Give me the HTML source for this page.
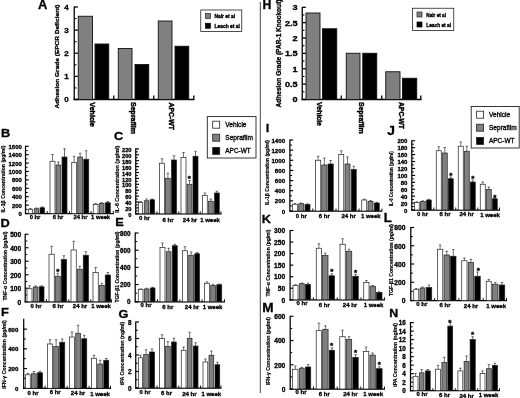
<!DOCTYPE html>
<html><head><meta charset="utf-8"><title>Figure</title>
<style>
html,body{margin:0;padding:0;background:#fff;}
svg{display:block;font-family:"Liberation Sans",sans-serif;}
text{stroke:#000;stroke-width:0.32px;}
</style></head><body>
<svg width="520" height="398" viewBox="0 0 520 398">
<rect width="520" height="398" fill="#fff"/>
<defs><filter id="bl" x="0" y="0" width="100%" height="100%" filterUnits="userSpaceOnUse"><feGaussianBlur stdDeviation="0.35"/></filter></defs>
<g filter="url(#bl)">
<rect width="520" height="398" fill="#fff"/>
<g stroke-linecap="butt">
<line x1="260.30" y1="2.00" x2="260.30" y2="393.00" stroke="#333" stroke-width="0.9"/>
<line x1="74.25" y1="6.40" x2="74.25" y2="100.10" stroke="#000" stroke-width="1.3"/>
<line x1="73.65" y1="99.50" x2="194.50" y2="99.50" stroke="#000" stroke-width="1.3"/>
<line x1="74.25" y1="87.94" x2="76.45" y2="87.94" stroke="#000" stroke-width="1.1"/>
<line x1="74.25" y1="64.81" x2="76.45" y2="64.81" stroke="#000" stroke-width="1.1"/>
<line x1="74.25" y1="41.69" x2="76.45" y2="41.69" stroke="#000" stroke-width="1.1"/>
<line x1="74.25" y1="18.56" x2="76.45" y2="18.56" stroke="#000" stroke-width="1.1"/>
<line x1="74.25" y1="99.50" x2="77.85" y2="99.50" stroke="#000" stroke-width="1.3"/>
<text font-size="8" font-weight="bold" text-anchor="end" transform="translate(68.8 102.38) scale(1.0 1)">0</text>
<line x1="74.25" y1="76.38" x2="77.85" y2="76.38" stroke="#000" stroke-width="1.3"/>
<text font-size="8" font-weight="bold" text-anchor="end" transform="translate(68.8 79.25) scale(1.0 1)">1</text>
<line x1="74.25" y1="53.25" x2="77.85" y2="53.25" stroke="#000" stroke-width="1.3"/>
<text font-size="8" font-weight="bold" text-anchor="end" transform="translate(68.8 56.13) scale(1.0 1)">2</text>
<line x1="74.25" y1="30.12" x2="77.85" y2="30.12" stroke="#000" stroke-width="1.3"/>
<text font-size="8" font-weight="bold" text-anchor="end" transform="translate(68.8 33.01) scale(1.0 1)">3</text>
<line x1="74.25" y1="7.00" x2="77.85" y2="7.00" stroke="#000" stroke-width="1.3"/>
<text font-size="8" font-weight="bold" text-anchor="end" transform="translate(68.8 9.88) scale(1.0 1)">4</text>
<line x1="113.75" y1="99.50" x2="113.75" y2="95.50" stroke="#000" stroke-width="1.3"/>
<line x1="153.75" y1="99.50" x2="153.75" y2="95.50" stroke="#000" stroke-width="1.3"/>
<line x1="193.75" y1="99.50" x2="193.75" y2="95.50" stroke="#000" stroke-width="1.3"/>
<rect x="78.25" y="16.25" width="14.25" height="83.25" fill="#808080" stroke="#111" stroke-width="0.9"/>
<rect x="95.00" y="44.00" width="13.75" height="55.50" fill="#000" stroke="#111" stroke-width="0.9"/>
<rect x="118.25" y="48.50" width="13.75" height="51.00" fill="#808080" stroke="#111" stroke-width="0.9"/>
<rect x="135.00" y="64.50" width="13.75" height="35.00" fill="#000" stroke="#111" stroke-width="0.9"/>
<rect x="158.25" y="21.00" width="13.75" height="78.50" fill="#808080" stroke="#111" stroke-width="0.9"/>
<rect x="175.00" y="46.25" width="13.75" height="53.25" fill="#000" stroke="#111" stroke-width="0.9"/>
<text font-size="12" font-weight="bold" transform="translate(38 8.5) scale(1.08 1)">A</text>
<text font-size="6.2" font-weight="bold" text-anchor="middle" textLength="104" lengthAdjust="spacingAndGlyphs" transform="translate(58.8 56.5) rotate(-90)">Adhesion Grade (EPCR Deficient)</text>
<text font-size="7" font-weight="bold" text-anchor="start" textLength="24.5" lengthAdjust="spacingAndGlyphs" style="stroke-width:0.42px" transform="translate(89.60000000000001 102.3) scale(1.13 1) rotate(90)">Vehicle</text>
<text font-size="7" font-weight="bold" text-anchor="start" textLength="32" lengthAdjust="spacingAndGlyphs" style="stroke-width:0.42px" transform="translate(130.70000000000002 102) scale(1.13 1) rotate(90)">Seprafilm</text>
<text font-size="7" font-weight="bold" text-anchor="start" textLength="27.5" lengthAdjust="spacingAndGlyphs" style="stroke-width:0.42px" transform="translate(169.3 102.5) scale(1.13 1) rotate(90)">APC-WT</text>
<line x1="302.25" y1="6.90" x2="302.25" y2="100.10" stroke="#000" stroke-width="1.3"/>
<line x1="301.65" y1="99.50" x2="421.50" y2="99.50" stroke="#000" stroke-width="1.3"/>
<line x1="302.25" y1="91.81" x2="304.45" y2="91.81" stroke="#000" stroke-width="1.1"/>
<line x1="302.25" y1="76.44" x2="304.45" y2="76.44" stroke="#000" stroke-width="1.1"/>
<line x1="302.25" y1="61.08" x2="304.45" y2="61.08" stroke="#000" stroke-width="1.1"/>
<line x1="302.25" y1="45.70" x2="304.45" y2="45.70" stroke="#000" stroke-width="1.1"/>
<line x1="302.25" y1="30.34" x2="304.45" y2="30.34" stroke="#000" stroke-width="1.1"/>
<line x1="302.25" y1="14.97" x2="304.45" y2="14.97" stroke="#000" stroke-width="1.1"/>
<line x1="302.25" y1="99.50" x2="305.85" y2="99.50" stroke="#000" stroke-width="1.3"/>
<text font-size="8" font-weight="bold" text-anchor="end" transform="translate(297.6 102.38) scale(1.14 1)">0</text>
<line x1="302.25" y1="84.13" x2="305.85" y2="84.13" stroke="#000" stroke-width="1.3"/>
<text font-size="8" font-weight="bold" text-anchor="end" transform="translate(297.6 87.01) scale(1.14 1)">0.5</text>
<line x1="302.25" y1="68.76" x2="305.85" y2="68.76" stroke="#000" stroke-width="1.3"/>
<text font-size="8" font-weight="bold" text-anchor="end" transform="translate(297.6 71.64) scale(1.14 1)">1</text>
<line x1="302.25" y1="53.39" x2="305.85" y2="53.39" stroke="#000" stroke-width="1.3"/>
<text font-size="8" font-weight="bold" text-anchor="end" transform="translate(297.6 56.27) scale(1.14 1)">1.5</text>
<line x1="302.25" y1="38.02" x2="305.85" y2="38.02" stroke="#000" stroke-width="1.3"/>
<text font-size="8" font-weight="bold" text-anchor="end" transform="translate(297.6 40.90) scale(1.14 1)">2</text>
<line x1="302.25" y1="22.65" x2="305.85" y2="22.65" stroke="#000" stroke-width="1.3"/>
<text font-size="8" font-weight="bold" text-anchor="end" transform="translate(297.6 25.53) scale(1.14 1)">2.5</text>
<line x1="302.25" y1="7.28" x2="305.85" y2="7.28" stroke="#000" stroke-width="1.3"/>
<text font-size="8" font-weight="bold" text-anchor="end" transform="translate(297.6 10.16) scale(1.14 1)">3</text>
<line x1="341.25" y1="99.50" x2="341.25" y2="95.50" stroke="#000" stroke-width="1.3"/>
<line x1="381.75" y1="99.50" x2="381.75" y2="95.50" stroke="#000" stroke-width="1.3"/>
<line x1="420.75" y1="99.50" x2="420.75" y2="95.50" stroke="#000" stroke-width="1.3"/>
<rect x="306.00" y="13.00" width="14.00" height="86.50" fill="#808080" stroke="#111" stroke-width="0.9"/>
<rect x="322.50" y="28.75" width="14.25" height="70.75" fill="#000" stroke="#111" stroke-width="0.9"/>
<rect x="346.25" y="53.25" width="13.75" height="46.25" fill="#808080" stroke="#111" stroke-width="0.9"/>
<rect x="362.75" y="53.25" width="14.00" height="46.25" fill="#000" stroke="#111" stroke-width="0.9"/>
<rect x="385.75" y="71.75" width="14.25" height="27.75" fill="#808080" stroke="#111" stroke-width="0.9"/>
<rect x="402.50" y="78.25" width="14.25" height="21.25" fill="#000" stroke="#111" stroke-width="0.9"/>
<text font-size="12.3" font-weight="bold" transform="translate(262.6 8.8) scale(1.0 1)">H</text>
<text font-size="6.3" font-weight="bold" text-anchor="middle" textLength="108" lengthAdjust="spacingAndGlyphs" transform="translate(281.4 53.5) rotate(-90)">Adhesion Grade (PAR-1 Knockout)</text>
<text font-size="7" font-weight="bold" text-anchor="start" textLength="24" lengthAdjust="spacingAndGlyphs" style="stroke-width:0.42px" transform="translate(317.4 102) scale(1.13 1) rotate(90)">Vehicle</text>
<text font-size="7" font-weight="bold" text-anchor="start" textLength="31.75" lengthAdjust="spacingAndGlyphs" style="stroke-width:0.42px" transform="translate(358.5 102) scale(1.13 1) rotate(90)">Seprafilm</text>
<text font-size="7" font-weight="bold" text-anchor="start" textLength="27" lengthAdjust="spacingAndGlyphs" style="stroke-width:0.42px" transform="translate(398.65 102) scale(1.13 1) rotate(90)">APC-WT</text>
<rect x="200.75" y="10" width="41.0" height="21.5" fill="#fff" stroke="#222" stroke-width="0.8"/>
<rect x="205.5" y="13.5" width="5" height="5" fill="#808080" stroke="#222" stroke-width="0.7"/>
<rect x="205.5" y="23.25" width="5" height="5" fill="#000" stroke="#000" stroke-width="0.7"/>
<text x="214.50" y="18.10" font-size="5" font-weight="bold" text-anchor="start" fill="#000" textLength="20.50" lengthAdjust="spacingAndGlyphs" >Nair et al</text>
<text x="214.50" y="27.85" font-size="5" font-weight="bold" text-anchor="start" fill="#000" textLength="25.50" lengthAdjust="spacingAndGlyphs" >Leach et al</text>
<rect x="412.5" y="8.25" width="41.25" height="22.25" fill="#fff" stroke="#222" stroke-width="0.8"/>
<rect x="417" y="12" width="5" height="5" fill="#808080" stroke="#222" stroke-width="0.7"/>
<rect x="417" y="22" width="5" height="5" fill="#000" stroke="#000" stroke-width="0.7"/>
<text x="426.25" y="16.60" font-size="5" font-weight="bold" text-anchor="start" fill="#000" textLength="19.75" lengthAdjust="spacingAndGlyphs" >Nair et al</text>
<text x="426.25" y="26.60" font-size="5" font-weight="bold" text-anchor="start" fill="#000" textLength="24.75" lengthAdjust="spacingAndGlyphs" >Leach et al</text>
<rect x="207.3" y="116.6" width="48.69999999999999" height="41.400000000000006" fill="#fff" stroke="#222" stroke-width="0.9"/>
<rect x="212.7" y="121.2" width="7" height="7" fill="#fff" stroke="#222" stroke-width="0.8"/>
<rect x="212.7" y="134.2" width="7" height="7" fill="#808080" stroke="#222" stroke-width="0.8"/>
<rect x="212.7" y="147.4" width="7" height="7" fill="#000" stroke="#222" stroke-width="0.8"/>
<text x="225.30" y="126.80" font-size="6.6" font-weight="normal" text-anchor="start" fill="#000" textLength="21.20" lengthAdjust="spacingAndGlyphs" stroke="#000" stroke-width="0.15">Vehicle</text>
<text x="225.30" y="140.00" font-size="6.6" font-weight="normal" text-anchor="start" fill="#000" textLength="27.70" lengthAdjust="spacingAndGlyphs" stroke="#000" stroke-width="0.15">Seprafilm</text>
<text x="225.30" y="153.20" font-size="6.6" font-weight="normal" text-anchor="start" fill="#000" textLength="25.50" lengthAdjust="spacingAndGlyphs" stroke="#000" stroke-width="0.15">APC-WT</text>
<rect x="471.2" y="106.5" width="48.00000000000006" height="41.5" fill="#fff" stroke="#222" stroke-width="0.9"/>
<rect x="476.6" y="111.2" width="7" height="7" fill="#fff" stroke="#222" stroke-width="0.8"/>
<rect x="476.6" y="124.2" width="7" height="7" fill="#808080" stroke="#222" stroke-width="0.8"/>
<rect x="476.6" y="137.4" width="7" height="7" fill="#000" stroke="#222" stroke-width="0.8"/>
<text x="489.00" y="116.80" font-size="6.6" font-weight="normal" text-anchor="start" fill="#000" textLength="21.20" lengthAdjust="spacingAndGlyphs" stroke="#000" stroke-width="0.15">Vehicle</text>
<text x="489.00" y="130.00" font-size="6.6" font-weight="normal" text-anchor="start" fill="#000" textLength="27.70" lengthAdjust="spacingAndGlyphs" stroke="#000" stroke-width="0.15">Seprafilm</text>
<text x="489.00" y="143.20" font-size="6.6" font-weight="normal" text-anchor="start" fill="#000" textLength="25.50" lengthAdjust="spacingAndGlyphs" stroke="#000" stroke-width="0.15">APC-WT</text>
<line x1="25.50" y1="145.70" x2="25.50" y2="214.10" stroke="#000" stroke-width="1.25"/>
<line x1="24.90" y1="213.50" x2="113.80" y2="213.50" stroke="#000" stroke-width="1.25"/>
<line x1="25.50" y1="213.50" x2="28.80" y2="213.50" stroke="#000" stroke-width="1.15"/>
<text x="21.90" y="216.06" font-size="6" font-weight="bold" text-anchor="end" fill="#000" >0</text>
<line x1="25.50" y1="205.10" x2="28.80" y2="205.10" stroke="#000" stroke-width="1.15"/>
<text x="21.90" y="207.66" font-size="6" font-weight="bold" text-anchor="end" fill="#000" >200</text>
<line x1="25.50" y1="196.70" x2="28.80" y2="196.70" stroke="#000" stroke-width="1.15"/>
<text x="21.90" y="199.26" font-size="6" font-weight="bold" text-anchor="end" fill="#000" >400</text>
<line x1="25.50" y1="188.30" x2="28.80" y2="188.30" stroke="#000" stroke-width="1.15"/>
<text x="21.90" y="190.86" font-size="6" font-weight="bold" text-anchor="end" fill="#000" >600</text>
<line x1="25.50" y1="179.90" x2="28.80" y2="179.90" stroke="#000" stroke-width="1.15"/>
<text x="21.90" y="182.46" font-size="6" font-weight="bold" text-anchor="end" fill="#000" >800</text>
<line x1="25.50" y1="171.50" x2="28.80" y2="171.50" stroke="#000" stroke-width="1.15"/>
<text x="21.90" y="174.06" font-size="6" font-weight="bold" text-anchor="end" fill="#000" >1000</text>
<line x1="25.50" y1="163.10" x2="28.80" y2="163.10" stroke="#000" stroke-width="1.15"/>
<text x="21.90" y="165.66" font-size="6" font-weight="bold" text-anchor="end" fill="#000" >1200</text>
<line x1="25.50" y1="154.70" x2="28.80" y2="154.70" stroke="#000" stroke-width="1.15"/>
<text x="21.90" y="157.26" font-size="6" font-weight="bold" text-anchor="end" fill="#000" >1400</text>
<line x1="25.50" y1="146.30" x2="28.80" y2="146.30" stroke="#000" stroke-width="1.15"/>
<text x="21.90" y="148.86" font-size="6" font-weight="bold" text-anchor="end" fill="#000" >1600</text>
<line x1="25.50" y1="209.30" x2="27.60" y2="209.30" stroke="#000" stroke-width="1.0"/>
<line x1="25.50" y1="200.90" x2="27.60" y2="200.90" stroke="#000" stroke-width="1.0"/>
<line x1="25.50" y1="192.50" x2="27.60" y2="192.50" stroke="#000" stroke-width="1.0"/>
<line x1="25.50" y1="184.10" x2="27.60" y2="184.10" stroke="#000" stroke-width="1.0"/>
<line x1="25.50" y1="175.70" x2="27.60" y2="175.70" stroke="#000" stroke-width="1.0"/>
<line x1="25.50" y1="167.30" x2="27.60" y2="167.30" stroke="#000" stroke-width="1.0"/>
<line x1="25.50" y1="158.90" x2="27.60" y2="158.90" stroke="#000" stroke-width="1.0"/>
<line x1="25.50" y1="150.50" x2="27.60" y2="150.50" stroke="#000" stroke-width="1.0"/>
<line x1="30.38" y1="208.50" x2="30.38" y2="209.25" stroke="#333" stroke-width="0.7"/>
<line x1="29.12" y1="208.50" x2="31.62" y2="208.50" stroke="#333" stroke-width="0.7"/>
<rect x="28.25" y="209.25" width="4.25" height="4.25" fill="#fff" stroke="#222" stroke-width="0.7"/>
<line x1="36.50" y1="208.00" x2="36.50" y2="208.75" stroke="#333" stroke-width="0.7"/>
<line x1="35.25" y1="208.00" x2="37.75" y2="208.00" stroke="#333" stroke-width="0.7"/>
<rect x="34.25" y="208.75" width="4.50" height="4.75" fill="#808080" stroke="#222" stroke-width="0.7"/>
<line x1="42.25" y1="206.80" x2="42.25" y2="207.75" stroke="#333" stroke-width="0.7"/>
<line x1="41.00" y1="206.80" x2="43.50" y2="206.80" stroke="#333" stroke-width="0.7"/>
<rect x="40.00" y="207.75" width="4.50" height="5.75" fill="#000" stroke="#222" stroke-width="0.7"/>
<line x1="52.50" y1="154.50" x2="52.50" y2="161.25" stroke="#333" stroke-width="0.7"/>
<line x1="51.25" y1="154.50" x2="53.75" y2="154.50" stroke="#333" stroke-width="0.7"/>
<rect x="50.00" y="161.25" width="5.00" height="52.25" fill="#fff" stroke="#222" stroke-width="0.7"/>
<line x1="58.38" y1="162.00" x2="58.38" y2="165.00" stroke="#333" stroke-width="0.7"/>
<line x1="57.12" y1="162.00" x2="59.62" y2="162.00" stroke="#333" stroke-width="0.7"/>
<rect x="56.00" y="165.00" width="4.75" height="48.50" fill="#808080" stroke="#222" stroke-width="0.7"/>
<line x1="64.50" y1="148.75" x2="64.50" y2="157.00" stroke="#333" stroke-width="0.7"/>
<line x1="63.25" y1="148.75" x2="65.75" y2="148.75" stroke="#333" stroke-width="0.7"/>
<rect x="62.00" y="157.00" width="5.00" height="56.50" fill="#000" stroke="#222" stroke-width="0.7"/>
<line x1="74.12" y1="156.25" x2="74.12" y2="162.50" stroke="#333" stroke-width="0.7"/>
<line x1="72.88" y1="156.25" x2="75.38" y2="156.25" stroke="#333" stroke-width="0.7"/>
<rect x="71.75" y="162.50" width="4.75" height="51.00" fill="#fff" stroke="#222" stroke-width="0.7"/>
<line x1="80.12" y1="153.25" x2="80.12" y2="157.00" stroke="#333" stroke-width="0.7"/>
<line x1="78.88" y1="153.25" x2="81.38" y2="153.25" stroke="#333" stroke-width="0.7"/>
<rect x="77.75" y="157.00" width="4.75" height="56.50" fill="#808080" stroke="#222" stroke-width="0.7"/>
<line x1="86.25" y1="150.75" x2="86.25" y2="159.25" stroke="#333" stroke-width="0.7"/>
<line x1="85.00" y1="150.75" x2="87.50" y2="150.75" stroke="#333" stroke-width="0.7"/>
<rect x="83.75" y="159.25" width="5.00" height="54.25" fill="#000" stroke="#222" stroke-width="0.7"/>
<line x1="95.62" y1="203.50" x2="95.62" y2="204.50" stroke="#333" stroke-width="0.7"/>
<line x1="94.38" y1="203.50" x2="96.88" y2="203.50" stroke="#333" stroke-width="0.7"/>
<rect x="93.25" y="204.50" width="4.75" height="9.00" fill="#fff" stroke="#222" stroke-width="0.7"/>
<line x1="101.62" y1="202.60" x2="101.62" y2="203.50" stroke="#333" stroke-width="0.7"/>
<line x1="100.38" y1="202.60" x2="102.88" y2="202.60" stroke="#333" stroke-width="0.7"/>
<rect x="99.25" y="203.50" width="4.75" height="10.00" fill="#808080" stroke="#222" stroke-width="0.7"/>
<line x1="107.75" y1="201.50" x2="107.75" y2="202.75" stroke="#333" stroke-width="0.7"/>
<line x1="106.50" y1="201.50" x2="109.00" y2="201.50" stroke="#333" stroke-width="0.7"/>
<rect x="105.25" y="202.75" width="5.00" height="10.75" fill="#000" stroke="#222" stroke-width="0.7"/>
<line x1="47.25" y1="213.50" x2="47.25" y2="211.00" stroke="#000" stroke-width="0.9"/>
<line x1="69.38" y1="213.50" x2="69.38" y2="211.00" stroke="#000" stroke-width="0.9"/>
<line x1="91.00" y1="213.50" x2="91.00" y2="211.00" stroke="#000" stroke-width="0.9"/>
<line x1="113.30" y1="213.50" x2="113.30" y2="211.00" stroke="#000" stroke-width="0.9"/>
<text x="35.00" y="219.40" font-size="5.8" font-weight="bold" text-anchor="middle" fill="#000" >0 hr</text>
<text x="58.00" y="219.40" font-size="5.8" font-weight="bold" text-anchor="middle" fill="#000" >6 hr</text>
<text x="80.50" y="219.40" font-size="5.8" font-weight="bold" text-anchor="middle" fill="#000" >24 hr</text>
<text x="100.60" y="219.40" font-size="5.8" font-weight="bold" text-anchor="middle" fill="#000" >1 week</text>
<text font-size="11.8" font-weight="bold" transform="translate(1 136.8) scale(1.08 1)">B</text>
<text font-size="4.8" font-weight="bold" text-anchor="middle" textLength="67" lengthAdjust="spacingAndGlyphs" style="stroke-width:0.18px" transform="translate(4.6 179) rotate(-90)">IL-1&#946; Concentration (pg/ml)</text>
<line x1="135.75" y1="148.30" x2="135.75" y2="214.40" stroke="#000" stroke-width="1.25"/>
<line x1="135.15" y1="213.80" x2="221.50" y2="213.80" stroke="#000" stroke-width="1.25"/>
<line x1="135.75" y1="213.80" x2="139.05" y2="213.80" stroke="#000" stroke-width="1.15"/>
<text x="131.50" y="216.95" font-size="5.7" font-weight="bold" text-anchor="end" fill="#000" >0</text>
<line x1="135.75" y1="207.90" x2="139.05" y2="207.90" stroke="#000" stroke-width="1.15"/>
<text x="131.50" y="211.05" font-size="5.7" font-weight="bold" text-anchor="end" fill="#000" >20</text>
<line x1="135.75" y1="202.00" x2="139.05" y2="202.00" stroke="#000" stroke-width="1.15"/>
<text x="131.50" y="205.15" font-size="5.7" font-weight="bold" text-anchor="end" fill="#000" >40</text>
<line x1="135.75" y1="196.10" x2="139.05" y2="196.10" stroke="#000" stroke-width="1.15"/>
<text x="131.50" y="199.25" font-size="5.7" font-weight="bold" text-anchor="end" fill="#000" >60</text>
<line x1="135.75" y1="190.20" x2="139.05" y2="190.20" stroke="#000" stroke-width="1.15"/>
<text x="131.50" y="193.35" font-size="5.7" font-weight="bold" text-anchor="end" fill="#000" >80</text>
<line x1="135.75" y1="184.30" x2="139.05" y2="184.30" stroke="#000" stroke-width="1.15"/>
<text x="131.50" y="187.45" font-size="5.7" font-weight="bold" text-anchor="end" fill="#000" >100</text>
<line x1="135.75" y1="178.40" x2="139.05" y2="178.40" stroke="#000" stroke-width="1.15"/>
<text x="131.50" y="181.55" font-size="5.7" font-weight="bold" text-anchor="end" fill="#000" >120</text>
<line x1="135.75" y1="172.50" x2="139.05" y2="172.50" stroke="#000" stroke-width="1.15"/>
<text x="131.50" y="175.65" font-size="5.7" font-weight="bold" text-anchor="end" fill="#000" >140</text>
<line x1="135.75" y1="166.60" x2="139.05" y2="166.60" stroke="#000" stroke-width="1.15"/>
<text x="131.50" y="169.75" font-size="5.7" font-weight="bold" text-anchor="end" fill="#000" >160</text>
<line x1="135.75" y1="160.70" x2="139.05" y2="160.70" stroke="#000" stroke-width="1.15"/>
<text x="131.50" y="163.85" font-size="5.7" font-weight="bold" text-anchor="end" fill="#000" >180</text>
<line x1="135.75" y1="154.80" x2="139.05" y2="154.80" stroke="#000" stroke-width="1.15"/>
<text x="131.50" y="157.95" font-size="5.7" font-weight="bold" text-anchor="end" fill="#000" >200</text>
<line x1="135.75" y1="148.90" x2="139.05" y2="148.90" stroke="#000" stroke-width="1.15"/>
<text x="131.50" y="152.05" font-size="5.7" font-weight="bold" text-anchor="end" fill="#000" >220</text>
<line x1="135.75" y1="210.85" x2="137.85" y2="210.85" stroke="#000" stroke-width="1.0"/>
<line x1="135.75" y1="204.95" x2="137.85" y2="204.95" stroke="#000" stroke-width="1.0"/>
<line x1="135.75" y1="199.05" x2="137.85" y2="199.05" stroke="#000" stroke-width="1.0"/>
<line x1="135.75" y1="193.15" x2="137.85" y2="193.15" stroke="#000" stroke-width="1.0"/>
<line x1="135.75" y1="187.25" x2="137.85" y2="187.25" stroke="#000" stroke-width="1.0"/>
<line x1="135.75" y1="181.35" x2="137.85" y2="181.35" stroke="#000" stroke-width="1.0"/>
<line x1="135.75" y1="175.45" x2="137.85" y2="175.45" stroke="#000" stroke-width="1.0"/>
<line x1="135.75" y1="169.55" x2="137.85" y2="169.55" stroke="#000" stroke-width="1.0"/>
<line x1="135.75" y1="163.65" x2="137.85" y2="163.65" stroke="#000" stroke-width="1.0"/>
<line x1="135.75" y1="157.75" x2="137.85" y2="157.75" stroke="#000" stroke-width="1.0"/>
<line x1="135.75" y1="151.85" x2="137.85" y2="151.85" stroke="#000" stroke-width="1.0"/>
<line x1="140.60" y1="201.50" x2="140.60" y2="202.50" stroke="#333" stroke-width="0.7"/>
<line x1="139.35" y1="201.50" x2="141.85" y2="201.50" stroke="#333" stroke-width="0.7"/>
<rect x="138.60" y="202.50" width="4.00" height="11.30" fill="#fff" stroke="#222" stroke-width="0.7"/>
<line x1="146.50" y1="199.00" x2="146.50" y2="200.75" stroke="#333" stroke-width="0.7"/>
<line x1="145.25" y1="199.00" x2="147.75" y2="199.00" stroke="#333" stroke-width="0.7"/>
<rect x="144.25" y="200.75" width="4.50" height="13.05" fill="#808080" stroke="#222" stroke-width="0.7"/>
<line x1="152.25" y1="199.00" x2="152.25" y2="199.75" stroke="#333" stroke-width="0.7"/>
<line x1="151.00" y1="199.00" x2="153.50" y2="199.00" stroke="#333" stroke-width="0.7"/>
<rect x="150.00" y="199.75" width="4.50" height="14.05" fill="#000" stroke="#222" stroke-width="0.7"/>
<line x1="162.00" y1="158.75" x2="162.00" y2="163.25" stroke="#333" stroke-width="0.7"/>
<line x1="160.75" y1="158.75" x2="163.25" y2="158.75" stroke="#333" stroke-width="0.7"/>
<rect x="159.50" y="163.25" width="5.00" height="50.55" fill="#fff" stroke="#222" stroke-width="0.7"/>
<line x1="167.88" y1="173.25" x2="167.88" y2="178.25" stroke="#333" stroke-width="0.7"/>
<line x1="166.62" y1="173.25" x2="169.12" y2="173.25" stroke="#333" stroke-width="0.7"/>
<rect x="165.50" y="178.25" width="4.75" height="35.55" fill="#808080" stroke="#222" stroke-width="0.7"/>
<line x1="174.00" y1="155.75" x2="174.00" y2="160.00" stroke="#333" stroke-width="0.7"/>
<line x1="172.75" y1="155.75" x2="175.25" y2="155.75" stroke="#333" stroke-width="0.7"/>
<rect x="171.50" y="160.00" width="5.00" height="53.80" fill="#000" stroke="#222" stroke-width="0.7"/>
<line x1="183.50" y1="152.50" x2="183.50" y2="157.50" stroke="#333" stroke-width="0.7"/>
<line x1="182.25" y1="152.50" x2="184.75" y2="152.50" stroke="#333" stroke-width="0.7"/>
<rect x="181.00" y="157.50" width="5.00" height="56.30" fill="#fff" stroke="#222" stroke-width="0.7"/>
<line x1="189.50" y1="180.50" x2="189.50" y2="184.25" stroke="#333" stroke-width="0.7"/>
<line x1="188.25" y1="180.50" x2="190.75" y2="180.50" stroke="#333" stroke-width="0.7"/>
<rect x="187.00" y="184.25" width="5.00" height="29.55" fill="#808080" stroke="#222" stroke-width="0.7"/>
<line x1="195.50" y1="151.25" x2="195.50" y2="156.25" stroke="#333" stroke-width="0.7"/>
<line x1="194.25" y1="151.25" x2="196.75" y2="151.25" stroke="#333" stroke-width="0.7"/>
<rect x="193.00" y="156.25" width="5.00" height="57.55" fill="#000" stroke="#222" stroke-width="0.7"/>
<line x1="204.88" y1="193.00" x2="204.88" y2="195.50" stroke="#333" stroke-width="0.7"/>
<line x1="203.62" y1="193.00" x2="206.12" y2="193.00" stroke="#333" stroke-width="0.7"/>
<rect x="202.50" y="195.50" width="4.75" height="18.30" fill="#fff" stroke="#222" stroke-width="0.7"/>
<line x1="210.88" y1="199.00" x2="210.88" y2="201.25" stroke="#333" stroke-width="0.7"/>
<line x1="209.62" y1="199.00" x2="212.12" y2="199.00" stroke="#333" stroke-width="0.7"/>
<rect x="208.50" y="201.25" width="4.75" height="12.55" fill="#808080" stroke="#222" stroke-width="0.7"/>
<line x1="216.88" y1="191.25" x2="216.88" y2="193.00" stroke="#333" stroke-width="0.7"/>
<line x1="215.62" y1="191.25" x2="218.12" y2="191.25" stroke="#333" stroke-width="0.7"/>
<rect x="214.50" y="193.00" width="4.75" height="20.80" fill="#000" stroke="#222" stroke-width="0.7"/>
<line x1="157.00" y1="213.80" x2="157.00" y2="211.30" stroke="#000" stroke-width="0.9"/>
<line x1="178.75" y1="213.80" x2="178.75" y2="211.30" stroke="#000" stroke-width="0.9"/>
<line x1="200.25" y1="213.80" x2="200.25" y2="211.30" stroke="#000" stroke-width="0.9"/>
<line x1="221.00" y1="213.80" x2="221.00" y2="211.30" stroke="#000" stroke-width="0.9"/>
<text x="144.40" y="220.10" font-size="6" font-weight="bold" text-anchor="middle" fill="#000" >0 hr</text>
<text x="168.00" y="222.00" font-size="6" font-weight="bold" text-anchor="middle" fill="#000" >6 hr</text>
<text x="190.00" y="222.40" font-size="6" font-weight="bold" text-anchor="middle" fill="#000" >24 hr</text>
<text x="210.00" y="222.00" font-size="6" font-weight="bold" text-anchor="middle" fill="#000" >1 week</text>
<text font-size="11.8" font-weight="bold" transform="translate(114 139.6) scale(1.08 1)">C</text>
<text font-size="4.7" font-weight="bold" text-anchor="middle" textLength="67" lengthAdjust="spacingAndGlyphs" style="stroke-width:0.18px" transform="translate(119.3 179.2) rotate(-90)">IL-6 Concentration (pg/ml)</text>
<text x="189.20" y="180.70" font-size="8" font-weight="bold" text-anchor="middle" style="stroke-width:0.4px">*</text>
<line x1="25.20" y1="233.65" x2="25.20" y2="302.35" stroke="#000" stroke-width="1.25"/>
<line x1="24.60" y1="301.75" x2="112.00" y2="301.75" stroke="#000" stroke-width="1.25"/>
<line x1="25.20" y1="301.75" x2="28.50" y2="301.75" stroke="#000" stroke-width="1.15"/>
<text x="21.20" y="304.53" font-size="6.6" font-weight="bold" text-anchor="end" fill="#000" >0</text>
<line x1="25.20" y1="288.25" x2="28.50" y2="288.25" stroke="#000" stroke-width="1.15"/>
<text x="21.20" y="291.03" font-size="6.6" font-weight="bold" text-anchor="end" fill="#000" >100</text>
<line x1="25.20" y1="274.75" x2="28.50" y2="274.75" stroke="#000" stroke-width="1.15"/>
<text x="21.20" y="277.53" font-size="6.6" font-weight="bold" text-anchor="end" fill="#000" >200</text>
<line x1="25.20" y1="261.25" x2="28.50" y2="261.25" stroke="#000" stroke-width="1.15"/>
<text x="21.20" y="264.03" font-size="6.6" font-weight="bold" text-anchor="end" fill="#000" >300</text>
<line x1="25.20" y1="247.75" x2="28.50" y2="247.75" stroke="#000" stroke-width="1.15"/>
<text x="21.20" y="250.53" font-size="6.6" font-weight="bold" text-anchor="end" fill="#000" >400</text>
<line x1="25.20" y1="234.25" x2="28.50" y2="234.25" stroke="#000" stroke-width="1.15"/>
<text x="21.20" y="237.03" font-size="6.6" font-weight="bold" text-anchor="end" fill="#000" >500</text>
<line x1="25.20" y1="295.00" x2="27.30" y2="295.00" stroke="#000" stroke-width="1.0"/>
<line x1="25.20" y1="281.50" x2="27.30" y2="281.50" stroke="#000" stroke-width="1.0"/>
<line x1="25.20" y1="268.00" x2="27.30" y2="268.00" stroke="#000" stroke-width="1.0"/>
<line x1="25.20" y1="254.50" x2="27.30" y2="254.50" stroke="#000" stroke-width="1.0"/>
<line x1="25.20" y1="241.00" x2="27.30" y2="241.00" stroke="#000" stroke-width="1.0"/>
<line x1="29.50" y1="285.75" x2="29.50" y2="288.75" stroke="#333" stroke-width="0.7"/>
<line x1="28.25" y1="285.75" x2="30.75" y2="285.75" stroke="#333" stroke-width="0.7"/>
<rect x="27.00" y="288.75" width="5.00" height="13.00" fill="#fff" stroke="#222" stroke-width="0.7"/>
<line x1="35.62" y1="286.00" x2="35.62" y2="287.00" stroke="#333" stroke-width="0.7"/>
<line x1="34.38" y1="286.00" x2="36.88" y2="286.00" stroke="#333" stroke-width="0.7"/>
<rect x="33.25" y="287.00" width="4.75" height="14.75" fill="#808080" stroke="#222" stroke-width="0.7"/>
<line x1="41.62" y1="285.80" x2="41.62" y2="286.75" stroke="#333" stroke-width="0.7"/>
<line x1="40.38" y1="285.80" x2="42.88" y2="285.80" stroke="#333" stroke-width="0.7"/>
<rect x="39.25" y="286.75" width="4.75" height="15.00" fill="#000" stroke="#222" stroke-width="0.7"/>
<line x1="51.62" y1="246.25" x2="51.62" y2="254.25" stroke="#333" stroke-width="0.7"/>
<line x1="50.38" y1="246.25" x2="52.88" y2="246.25" stroke="#333" stroke-width="0.7"/>
<rect x="49.00" y="254.25" width="5.25" height="47.50" fill="#fff" stroke="#222" stroke-width="0.7"/>
<line x1="57.75" y1="273.25" x2="57.75" y2="276.25" stroke="#333" stroke-width="0.7"/>
<line x1="56.50" y1="273.25" x2="59.00" y2="273.25" stroke="#333" stroke-width="0.7"/>
<rect x="55.25" y="276.25" width="5.00" height="25.50" fill="#808080" stroke="#222" stroke-width="0.7"/>
<line x1="63.88" y1="255.75" x2="63.88" y2="259.50" stroke="#333" stroke-width="0.7"/>
<line x1="62.62" y1="255.75" x2="65.12" y2="255.75" stroke="#333" stroke-width="0.7"/>
<rect x="61.25" y="259.50" width="5.25" height="42.25" fill="#000" stroke="#222" stroke-width="0.7"/>
<line x1="73.62" y1="241.25" x2="73.62" y2="250.00" stroke="#333" stroke-width="0.7"/>
<line x1="72.38" y1="241.25" x2="74.88" y2="241.25" stroke="#333" stroke-width="0.7"/>
<rect x="71.00" y="250.00" width="5.25" height="51.75" fill="#fff" stroke="#222" stroke-width="0.7"/>
<line x1="79.75" y1="266.25" x2="79.75" y2="269.25" stroke="#333" stroke-width="0.7"/>
<line x1="78.50" y1="266.25" x2="81.00" y2="266.25" stroke="#333" stroke-width="0.7"/>
<rect x="77.25" y="269.25" width="5.00" height="32.50" fill="#808080" stroke="#222" stroke-width="0.7"/>
<line x1="85.88" y1="251.75" x2="85.88" y2="255.25" stroke="#333" stroke-width="0.7"/>
<line x1="84.62" y1="251.75" x2="87.12" y2="251.75" stroke="#333" stroke-width="0.7"/>
<rect x="83.25" y="255.25" width="5.25" height="46.50" fill="#000" stroke="#222" stroke-width="0.7"/>
<line x1="95.62" y1="267.50" x2="95.62" y2="272.50" stroke="#333" stroke-width="0.7"/>
<line x1="94.38" y1="267.50" x2="96.88" y2="267.50" stroke="#333" stroke-width="0.7"/>
<rect x="93.00" y="272.50" width="5.25" height="29.25" fill="#fff" stroke="#222" stroke-width="0.7"/>
<line x1="101.75" y1="283.25" x2="101.75" y2="285.50" stroke="#333" stroke-width="0.7"/>
<line x1="100.50" y1="283.25" x2="103.00" y2="283.25" stroke="#333" stroke-width="0.7"/>
<rect x="99.25" y="285.50" width="5.00" height="16.25" fill="#808080" stroke="#222" stroke-width="0.7"/>
<line x1="107.88" y1="272.50" x2="107.88" y2="275.00" stroke="#333" stroke-width="0.7"/>
<line x1="106.62" y1="272.50" x2="109.12" y2="272.50" stroke="#333" stroke-width="0.7"/>
<rect x="105.25" y="275.00" width="5.25" height="26.75" fill="#000" stroke="#222" stroke-width="0.7"/>
<line x1="46.50" y1="301.75" x2="46.50" y2="299.25" stroke="#000" stroke-width="0.9"/>
<line x1="68.75" y1="301.75" x2="68.75" y2="299.25" stroke="#000" stroke-width="0.9"/>
<line x1="90.75" y1="301.75" x2="90.75" y2="299.25" stroke="#000" stroke-width="0.9"/>
<line x1="111.50" y1="301.75" x2="111.50" y2="299.25" stroke="#000" stroke-width="0.9"/>
<text x="36.00" y="308.20" font-size="6" font-weight="bold" text-anchor="middle" fill="#000" >0 hr</text>
<text x="58.00" y="308.20" font-size="6" font-weight="bold" text-anchor="middle" fill="#000" >6 hr</text>
<text x="80.00" y="308.20" font-size="6" font-weight="bold" text-anchor="middle" fill="#000" >24 hr</text>
<text x="101.00" y="308.20" font-size="6" font-weight="bold" text-anchor="middle" fill="#000" >1 week</text>
<text font-size="11.8" font-weight="bold" transform="translate(0.5 227.2) scale(1.08 1)">D</text>
<text font-size="4.8" font-weight="bold" text-anchor="middle" textLength="69" lengthAdjust="spacingAndGlyphs" style="stroke-width:0.18px" transform="translate(7 266) rotate(-90)">TNF-&#945; Concentration (pg/ml)</text>
<text x="57.75" y="274.20" font-size="8" font-weight="bold" text-anchor="middle" style="stroke-width:0.4px">*</text>
<line x1="135.20" y1="232.40" x2="135.20" y2="302.35" stroke="#000" stroke-width="1.25"/>
<line x1="134.60" y1="301.75" x2="225.00" y2="301.75" stroke="#000" stroke-width="1.25"/>
<line x1="135.20" y1="301.75" x2="138.50" y2="301.75" stroke="#000" stroke-width="1.15"/>
<text x="130.50" y="304.42" font-size="6.3" font-weight="bold" text-anchor="end" fill="#000" >0</text>
<line x1="135.20" y1="284.56" x2="138.50" y2="284.56" stroke="#000" stroke-width="1.15"/>
<text x="130.50" y="287.23" font-size="6.3" font-weight="bold" text-anchor="end" fill="#000" >200</text>
<line x1="135.20" y1="267.38" x2="138.50" y2="267.38" stroke="#000" stroke-width="1.15"/>
<text x="130.50" y="270.04" font-size="6.3" font-weight="bold" text-anchor="end" fill="#000" >400</text>
<line x1="135.20" y1="250.19" x2="138.50" y2="250.19" stroke="#000" stroke-width="1.15"/>
<text x="130.50" y="252.86" font-size="6.3" font-weight="bold" text-anchor="end" fill="#000" >600</text>
<line x1="135.20" y1="233.00" x2="138.50" y2="233.00" stroke="#000" stroke-width="1.15"/>
<text x="130.50" y="235.67" font-size="6.3" font-weight="bold" text-anchor="end" fill="#000" >800</text>
<line x1="135.20" y1="293.16" x2="137.30" y2="293.16" stroke="#000" stroke-width="1.0"/>
<line x1="135.20" y1="275.97" x2="137.30" y2="275.97" stroke="#000" stroke-width="1.0"/>
<line x1="135.20" y1="258.78" x2="137.30" y2="258.78" stroke="#000" stroke-width="1.0"/>
<line x1="135.20" y1="241.59" x2="137.30" y2="241.59" stroke="#000" stroke-width="1.0"/>
<line x1="140.62" y1="288.80" x2="140.62" y2="289.50" stroke="#333" stroke-width="0.7"/>
<line x1="139.38" y1="288.80" x2="141.88" y2="288.80" stroke="#333" stroke-width="0.7"/>
<rect x="138.25" y="289.50" width="4.75" height="12.25" fill="#fff" stroke="#222" stroke-width="0.7"/>
<line x1="146.62" y1="288.20" x2="146.62" y2="289.00" stroke="#333" stroke-width="0.7"/>
<line x1="145.38" y1="288.20" x2="147.88" y2="288.20" stroke="#333" stroke-width="0.7"/>
<rect x="144.25" y="289.00" width="4.75" height="12.75" fill="#808080" stroke="#222" stroke-width="0.7"/>
<line x1="152.62" y1="287.30" x2="152.62" y2="288.00" stroke="#333" stroke-width="0.7"/>
<line x1="151.38" y1="287.30" x2="153.88" y2="287.30" stroke="#333" stroke-width="0.7"/>
<rect x="150.25" y="288.00" width="4.75" height="13.75" fill="#000" stroke="#222" stroke-width="0.7"/>
<line x1="162.50" y1="243.00" x2="162.50" y2="247.50" stroke="#333" stroke-width="0.7"/>
<line x1="161.25" y1="243.00" x2="163.75" y2="243.00" stroke="#333" stroke-width="0.7"/>
<rect x="160.00" y="247.50" width="5.00" height="54.25" fill="#fff" stroke="#222" stroke-width="0.7"/>
<line x1="168.62" y1="248.25" x2="168.62" y2="251.75" stroke="#333" stroke-width="0.7"/>
<line x1="167.38" y1="248.25" x2="169.88" y2="248.25" stroke="#333" stroke-width="0.7"/>
<rect x="166.25" y="251.75" width="4.75" height="50.00" fill="#808080" stroke="#222" stroke-width="0.7"/>
<line x1="174.75" y1="244.25" x2="174.75" y2="245.75" stroke="#333" stroke-width="0.7"/>
<line x1="173.50" y1="244.25" x2="176.00" y2="244.25" stroke="#333" stroke-width="0.7"/>
<rect x="172.25" y="245.75" width="5.00" height="56.00" fill="#000" stroke="#222" stroke-width="0.7"/>
<line x1="185.00" y1="246.75" x2="185.00" y2="250.75" stroke="#333" stroke-width="0.7"/>
<line x1="183.75" y1="246.75" x2="186.25" y2="246.75" stroke="#333" stroke-width="0.7"/>
<rect x="182.50" y="250.75" width="5.00" height="51.00" fill="#fff" stroke="#222" stroke-width="0.7"/>
<line x1="191.12" y1="252.00" x2="191.12" y2="255.25" stroke="#333" stroke-width="0.7"/>
<line x1="189.88" y1="252.00" x2="192.38" y2="252.00" stroke="#333" stroke-width="0.7"/>
<rect x="188.75" y="255.25" width="4.75" height="46.50" fill="#808080" stroke="#222" stroke-width="0.7"/>
<line x1="197.12" y1="252.50" x2="197.12" y2="253.75" stroke="#333" stroke-width="0.7"/>
<line x1="195.88" y1="252.50" x2="198.38" y2="252.50" stroke="#333" stroke-width="0.7"/>
<rect x="194.75" y="253.75" width="4.75" height="48.00" fill="#000" stroke="#222" stroke-width="0.7"/>
<line x1="207.00" y1="281.80" x2="207.00" y2="283.25" stroke="#333" stroke-width="0.7"/>
<line x1="205.75" y1="281.80" x2="208.25" y2="281.80" stroke="#333" stroke-width="0.7"/>
<rect x="204.50" y="283.25" width="5.00" height="18.50" fill="#fff" stroke="#222" stroke-width="0.7"/>
<line x1="213.12" y1="284.30" x2="213.12" y2="285.50" stroke="#333" stroke-width="0.7"/>
<line x1="211.88" y1="284.30" x2="214.38" y2="284.30" stroke="#333" stroke-width="0.7"/>
<rect x="210.75" y="285.50" width="4.75" height="16.25" fill="#808080" stroke="#222" stroke-width="0.7"/>
<line x1="219.25" y1="284.00" x2="219.25" y2="284.75" stroke="#333" stroke-width="0.7"/>
<line x1="218.00" y1="284.00" x2="220.50" y2="284.00" stroke="#333" stroke-width="0.7"/>
<rect x="216.75" y="284.75" width="5.00" height="17.00" fill="#000" stroke="#222" stroke-width="0.7"/>
<line x1="157.50" y1="301.75" x2="157.50" y2="299.25" stroke="#000" stroke-width="0.9"/>
<line x1="179.88" y1="301.75" x2="179.88" y2="299.25" stroke="#000" stroke-width="0.9"/>
<line x1="202.00" y1="301.75" x2="202.00" y2="299.25" stroke="#000" stroke-width="0.9"/>
<line x1="224.50" y1="301.75" x2="224.50" y2="299.25" stroke="#000" stroke-width="0.9"/>
<text x="146.00" y="307.10" font-size="6" font-weight="bold" text-anchor="middle" fill="#000" >0 hr</text>
<text x="167.80" y="308.50" font-size="6" font-weight="bold" text-anchor="middle" fill="#000" >6 hr</text>
<text x="192.00" y="308.50" font-size="6" font-weight="bold" text-anchor="middle" fill="#000" >24 hr</text>
<text x="212.50" y="309.10" font-size="6" font-weight="bold" text-anchor="middle" fill="#000" >1 week</text>
<text font-size="11.8" font-weight="bold" transform="translate(115.3 225.7) scale(1.08 1)">E</text>
<text font-size="4.8" font-weight="bold" text-anchor="middle" textLength="71" lengthAdjust="spacingAndGlyphs" style="stroke-width:0.18px" transform="translate(119.4 267) rotate(-90)">TGF-&#946;1 Concentration (pg/ml)</text>
<line x1="23.70" y1="318.70" x2="23.70" y2="388.85" stroke="#000" stroke-width="1.25"/>
<line x1="23.10" y1="388.25" x2="111.00" y2="388.25" stroke="#000" stroke-width="1.25"/>
<line x1="23.70" y1="388.25" x2="27.00" y2="388.25" stroke="#000" stroke-width="1.15"/>
<text x="18.30" y="390.85" font-size="6.1" font-weight="bold" text-anchor="end" fill="#000" >0</text>
<line x1="23.70" y1="368.55" x2="27.00" y2="368.55" stroke="#000" stroke-width="1.15"/>
<text x="18.30" y="371.15" font-size="6.1" font-weight="bold" text-anchor="end" fill="#000" >200</text>
<line x1="23.70" y1="348.85" x2="27.00" y2="348.85" stroke="#000" stroke-width="1.15"/>
<text x="18.30" y="351.45" font-size="6.1" font-weight="bold" text-anchor="end" fill="#000" >400</text>
<line x1="23.70" y1="329.15" x2="27.00" y2="329.15" stroke="#000" stroke-width="1.15"/>
<text x="18.30" y="331.75" font-size="6.1" font-weight="bold" text-anchor="end" fill="#000" >600</text>
<line x1="23.70" y1="378.40" x2="25.80" y2="378.40" stroke="#000" stroke-width="1.0"/>
<line x1="23.70" y1="358.70" x2="25.80" y2="358.70" stroke="#000" stroke-width="1.0"/>
<line x1="23.70" y1="339.00" x2="25.80" y2="339.00" stroke="#000" stroke-width="1.0"/>
<line x1="27.88" y1="373.30" x2="27.88" y2="374.75" stroke="#333" stroke-width="0.7"/>
<line x1="26.62" y1="373.30" x2="29.12" y2="373.30" stroke="#333" stroke-width="0.7"/>
<rect x="25.50" y="374.75" width="4.75" height="13.50" fill="#fff" stroke="#222" stroke-width="0.7"/>
<line x1="33.88" y1="371.50" x2="33.88" y2="373.75" stroke="#333" stroke-width="0.7"/>
<line x1="32.62" y1="371.50" x2="35.12" y2="371.50" stroke="#333" stroke-width="0.7"/>
<rect x="31.50" y="373.75" width="4.75" height="14.50" fill="#808080" stroke="#222" stroke-width="0.7"/>
<line x1="40.00" y1="371.30" x2="40.00" y2="372.75" stroke="#333" stroke-width="0.7"/>
<line x1="38.75" y1="371.30" x2="41.25" y2="371.30" stroke="#333" stroke-width="0.7"/>
<rect x="37.50" y="372.75" width="5.00" height="15.50" fill="#000" stroke="#222" stroke-width="0.7"/>
<line x1="50.00" y1="339.75" x2="50.00" y2="344.00" stroke="#333" stroke-width="0.7"/>
<line x1="48.75" y1="339.75" x2="51.25" y2="339.75" stroke="#333" stroke-width="0.7"/>
<rect x="47.50" y="344.00" width="5.00" height="44.25" fill="#fff" stroke="#222" stroke-width="0.7"/>
<line x1="56.12" y1="339.75" x2="56.12" y2="346.50" stroke="#333" stroke-width="0.7"/>
<line x1="54.88" y1="339.75" x2="57.38" y2="339.75" stroke="#333" stroke-width="0.7"/>
<rect x="53.75" y="346.50" width="4.75" height="41.75" fill="#808080" stroke="#222" stroke-width="0.7"/>
<line x1="62.25" y1="339.00" x2="62.25" y2="342.25" stroke="#333" stroke-width="0.7"/>
<line x1="61.00" y1="339.00" x2="63.50" y2="339.00" stroke="#333" stroke-width="0.7"/>
<rect x="59.75" y="342.25" width="5.00" height="46.00" fill="#000" stroke="#222" stroke-width="0.7"/>
<line x1="72.00" y1="332.00" x2="72.00" y2="337.00" stroke="#333" stroke-width="0.7"/>
<line x1="70.75" y1="332.00" x2="73.25" y2="332.00" stroke="#333" stroke-width="0.7"/>
<rect x="69.50" y="337.00" width="5.00" height="51.25" fill="#fff" stroke="#222" stroke-width="0.7"/>
<line x1="78.12" y1="325.25" x2="78.12" y2="333.25" stroke="#333" stroke-width="0.7"/>
<line x1="76.88" y1="325.25" x2="79.38" y2="325.25" stroke="#333" stroke-width="0.7"/>
<rect x="75.75" y="333.25" width="4.75" height="55.00" fill="#808080" stroke="#222" stroke-width="0.7"/>
<line x1="84.25" y1="335.25" x2="84.25" y2="338.75" stroke="#333" stroke-width="0.7"/>
<line x1="83.00" y1="335.25" x2="85.50" y2="335.25" stroke="#333" stroke-width="0.7"/>
<rect x="81.75" y="338.75" width="5.00" height="49.50" fill="#000" stroke="#222" stroke-width="0.7"/>
<line x1="94.00" y1="355.25" x2="94.00" y2="358.25" stroke="#333" stroke-width="0.7"/>
<line x1="92.75" y1="355.25" x2="95.25" y2="355.25" stroke="#333" stroke-width="0.7"/>
<rect x="91.50" y="358.25" width="5.00" height="30.00" fill="#fff" stroke="#222" stroke-width="0.7"/>
<line x1="100.12" y1="360.25" x2="100.12" y2="364.00" stroke="#333" stroke-width="0.7"/>
<line x1="98.88" y1="360.25" x2="101.38" y2="360.25" stroke="#333" stroke-width="0.7"/>
<rect x="97.75" y="364.00" width="4.75" height="24.25" fill="#808080" stroke="#222" stroke-width="0.7"/>
<line x1="106.25" y1="358.50" x2="106.25" y2="360.25" stroke="#333" stroke-width="0.7"/>
<line x1="105.00" y1="358.50" x2="107.50" y2="358.50" stroke="#333" stroke-width="0.7"/>
<rect x="103.75" y="360.25" width="5.00" height="28.00" fill="#000" stroke="#222" stroke-width="0.7"/>
<line x1="45.00" y1="388.25" x2="45.00" y2="385.75" stroke="#000" stroke-width="0.9"/>
<line x1="67.12" y1="388.25" x2="67.12" y2="385.75" stroke="#000" stroke-width="0.9"/>
<line x1="89.12" y1="388.25" x2="89.12" y2="385.75" stroke="#000" stroke-width="0.9"/>
<line x1="110.50" y1="388.25" x2="110.50" y2="385.75" stroke="#000" stroke-width="0.9"/>
<text x="33.00" y="394.50" font-size="6" font-weight="bold" text-anchor="middle" fill="#000" >0 hr</text>
<text x="55.20" y="394.00" font-size="6" font-weight="bold" text-anchor="middle" fill="#000" >6 hr</text>
<text x="78.00" y="394.50" font-size="6" font-weight="bold" text-anchor="middle" fill="#000" >24 hr</text>
<text x="100.00" y="395.60" font-size="6" font-weight="bold" text-anchor="middle" fill="#000" >1 week</text>
<text font-size="11.8" font-weight="bold" transform="translate(1 316.2) scale(1.08 1)">F</text>
<text font-size="4.8" font-weight="bold" text-anchor="middle" textLength="68.5" lengthAdjust="spacingAndGlyphs" style="stroke-width:0.18px" transform="translate(5.6 354.5) rotate(-90)">IFN-&#947; Concentration (pg/ml)</text>
<line x1="135.75" y1="321.40" x2="135.75" y2="388.60" stroke="#000" stroke-width="1.25"/>
<line x1="135.15" y1="388.00" x2="221.50" y2="388.00" stroke="#000" stroke-width="1.25"/>
<line x1="135.75" y1="388.00" x2="139.05" y2="388.00" stroke="#000" stroke-width="1.15"/>
<text x="131.60" y="390.67" font-size="6.3" font-weight="bold" text-anchor="end" fill="#000" >0</text>
<line x1="135.75" y1="371.50" x2="139.05" y2="371.50" stroke="#000" stroke-width="1.15"/>
<text x="131.60" y="374.17" font-size="6.3" font-weight="bold" text-anchor="end" fill="#000" >2</text>
<line x1="135.75" y1="355.00" x2="139.05" y2="355.00" stroke="#000" stroke-width="1.15"/>
<text x="131.60" y="357.67" font-size="6.3" font-weight="bold" text-anchor="end" fill="#000" >4</text>
<line x1="135.75" y1="338.50" x2="139.05" y2="338.50" stroke="#000" stroke-width="1.15"/>
<text x="131.60" y="341.17" font-size="6.3" font-weight="bold" text-anchor="end" fill="#000" >6</text>
<line x1="135.75" y1="322.00" x2="139.05" y2="322.00" stroke="#000" stroke-width="1.15"/>
<text x="131.60" y="324.67" font-size="6.3" font-weight="bold" text-anchor="end" fill="#000" >8</text>
<line x1="135.75" y1="379.75" x2="137.85" y2="379.75" stroke="#000" stroke-width="1.0"/>
<line x1="135.75" y1="363.25" x2="137.85" y2="363.25" stroke="#000" stroke-width="1.0"/>
<line x1="135.75" y1="346.75" x2="137.85" y2="346.75" stroke="#000" stroke-width="1.0"/>
<line x1="135.75" y1="330.25" x2="137.85" y2="330.25" stroke="#000" stroke-width="1.0"/>
<line x1="140.55" y1="355.25" x2="140.55" y2="357.75" stroke="#333" stroke-width="0.7"/>
<line x1="139.30" y1="355.25" x2="141.80" y2="355.25" stroke="#333" stroke-width="0.7"/>
<rect x="138.50" y="357.75" width="4.10" height="30.25" fill="#fff" stroke="#222" stroke-width="0.7"/>
<line x1="146.12" y1="349.75" x2="146.12" y2="354.50" stroke="#333" stroke-width="0.7"/>
<line x1="144.88" y1="349.75" x2="147.38" y2="349.75" stroke="#333" stroke-width="0.7"/>
<rect x="143.75" y="354.50" width="4.75" height="33.50" fill="#808080" stroke="#222" stroke-width="0.7"/>
<line x1="152.00" y1="349.00" x2="152.00" y2="352.00" stroke="#333" stroke-width="0.7"/>
<line x1="150.75" y1="349.00" x2="153.25" y2="349.00" stroke="#333" stroke-width="0.7"/>
<rect x="149.50" y="352.00" width="5.00" height="36.00" fill="#000" stroke="#222" stroke-width="0.7"/>
<line x1="162.00" y1="334.75" x2="162.00" y2="338.50" stroke="#333" stroke-width="0.7"/>
<line x1="160.75" y1="334.75" x2="163.25" y2="334.75" stroke="#333" stroke-width="0.7"/>
<rect x="159.50" y="338.50" width="5.00" height="49.50" fill="#fff" stroke="#222" stroke-width="0.7"/>
<line x1="167.88" y1="341.50" x2="167.88" y2="346.50" stroke="#333" stroke-width="0.7"/>
<line x1="166.62" y1="341.50" x2="169.12" y2="341.50" stroke="#333" stroke-width="0.7"/>
<rect x="165.50" y="346.50" width="4.75" height="41.50" fill="#808080" stroke="#222" stroke-width="0.7"/>
<line x1="173.88" y1="338.25" x2="173.88" y2="342.00" stroke="#333" stroke-width="0.7"/>
<line x1="172.62" y1="338.25" x2="175.12" y2="338.25" stroke="#333" stroke-width="0.7"/>
<rect x="171.50" y="342.00" width="4.75" height="46.00" fill="#000" stroke="#222" stroke-width="0.7"/>
<line x1="183.62" y1="347.00" x2="183.62" y2="350.25" stroke="#333" stroke-width="0.7"/>
<line x1="182.38" y1="347.00" x2="184.88" y2="347.00" stroke="#333" stroke-width="0.7"/>
<rect x="181.25" y="350.25" width="4.75" height="37.75" fill="#fff" stroke="#222" stroke-width="0.7"/>
<line x1="189.62" y1="332.25" x2="189.62" y2="338.25" stroke="#333" stroke-width="0.7"/>
<line x1="188.38" y1="332.25" x2="190.88" y2="332.25" stroke="#333" stroke-width="0.7"/>
<rect x="187.25" y="338.25" width="4.75" height="49.75" fill="#808080" stroke="#222" stroke-width="0.7"/>
<line x1="195.62" y1="342.75" x2="195.62" y2="346.00" stroke="#333" stroke-width="0.7"/>
<line x1="194.38" y1="342.75" x2="196.88" y2="342.75" stroke="#333" stroke-width="0.7"/>
<rect x="193.25" y="346.00" width="4.75" height="42.00" fill="#000" stroke="#222" stroke-width="0.7"/>
<line x1="205.38" y1="359.00" x2="205.38" y2="362.00" stroke="#333" stroke-width="0.7"/>
<line x1="204.12" y1="359.00" x2="206.62" y2="359.00" stroke="#333" stroke-width="0.7"/>
<rect x="203.00" y="362.00" width="4.75" height="26.00" fill="#fff" stroke="#222" stroke-width="0.7"/>
<line x1="211.38" y1="351.00" x2="211.38" y2="355.25" stroke="#333" stroke-width="0.7"/>
<line x1="210.12" y1="351.00" x2="212.62" y2="351.00" stroke="#333" stroke-width="0.7"/>
<rect x="209.00" y="355.25" width="4.75" height="32.75" fill="#808080" stroke="#222" stroke-width="0.7"/>
<line x1="217.38" y1="362.25" x2="217.38" y2="364.75" stroke="#333" stroke-width="0.7"/>
<line x1="216.12" y1="362.25" x2="218.62" y2="362.25" stroke="#333" stroke-width="0.7"/>
<rect x="215.00" y="364.75" width="4.75" height="23.25" fill="#000" stroke="#222" stroke-width="0.7"/>
<line x1="157.00" y1="388.00" x2="157.00" y2="385.50" stroke="#000" stroke-width="0.9"/>
<line x1="178.75" y1="388.00" x2="178.75" y2="385.50" stroke="#000" stroke-width="0.9"/>
<line x1="200.50" y1="388.00" x2="200.50" y2="385.50" stroke="#000" stroke-width="0.9"/>
<line x1="221.00" y1="388.00" x2="221.00" y2="385.50" stroke="#000" stroke-width="0.9"/>
<text x="145.00" y="394.00" font-size="6" font-weight="bold" text-anchor="middle" fill="#000" >0 hr</text>
<text x="166.60" y="395.40" font-size="6" font-weight="bold" text-anchor="middle" fill="#000" >6 hr</text>
<text x="189.40" y="396.10" font-size="6" font-weight="bold" text-anchor="middle" fill="#000" >24 hr</text>
<text x="211.25" y="395.60" font-size="6" font-weight="bold" text-anchor="middle" fill="#000" >1 week</text>
<text font-size="11.8" font-weight="bold" transform="translate(118.5 318) scale(1.08 1)">G</text>
<text font-size="4.8" font-weight="bold" text-anchor="middle" textLength="63.5" lengthAdjust="spacingAndGlyphs" style="stroke-width:0.18px" transform="translate(123.5 353.5) rotate(-90)">tPA Concentration (ng/ml)</text>
<line x1="289.90" y1="139.40" x2="289.90" y2="211.60" stroke="#000" stroke-width="1.25"/>
<line x1="289.30" y1="211.00" x2="382.40" y2="211.00" stroke="#000" stroke-width="1.25"/>
<line x1="289.90" y1="211.00" x2="293.20" y2="211.00" stroke="#000" stroke-width="1.15"/>
<text x="285.20" y="213.63" font-size="6.2" font-weight="bold" text-anchor="end" fill="#000" >0</text>
<line x1="289.90" y1="200.86" x2="293.20" y2="200.86" stroke="#000" stroke-width="1.15"/>
<text x="285.20" y="203.49" font-size="6.2" font-weight="bold" text-anchor="end" fill="#000" >200</text>
<line x1="289.90" y1="190.71" x2="293.20" y2="190.71" stroke="#000" stroke-width="1.15"/>
<text x="285.20" y="193.35" font-size="6.2" font-weight="bold" text-anchor="end" fill="#000" >400</text>
<line x1="289.90" y1="180.57" x2="293.20" y2="180.57" stroke="#000" stroke-width="1.15"/>
<text x="285.20" y="183.20" font-size="6.2" font-weight="bold" text-anchor="end" fill="#000" >600</text>
<line x1="289.90" y1="170.43" x2="293.20" y2="170.43" stroke="#000" stroke-width="1.15"/>
<text x="285.20" y="173.06" font-size="6.2" font-weight="bold" text-anchor="end" fill="#000" >800</text>
<line x1="289.90" y1="160.29" x2="293.20" y2="160.29" stroke="#000" stroke-width="1.15"/>
<text x="285.20" y="162.92" font-size="6.2" font-weight="bold" text-anchor="end" fill="#000" >1000</text>
<line x1="289.90" y1="150.14" x2="293.20" y2="150.14" stroke="#000" stroke-width="1.15"/>
<text x="285.20" y="152.77" font-size="6.2" font-weight="bold" text-anchor="end" fill="#000" >1200</text>
<line x1="289.90" y1="140.00" x2="293.20" y2="140.00" stroke="#000" stroke-width="1.15"/>
<text x="285.20" y="142.63" font-size="6.2" font-weight="bold" text-anchor="end" fill="#000" >1400</text>
<line x1="289.90" y1="205.93" x2="292.00" y2="205.93" stroke="#000" stroke-width="1.0"/>
<line x1="289.90" y1="195.79" x2="292.00" y2="195.79" stroke="#000" stroke-width="1.0"/>
<line x1="289.90" y1="185.64" x2="292.00" y2="185.64" stroke="#000" stroke-width="1.0"/>
<line x1="289.90" y1="175.50" x2="292.00" y2="175.50" stroke="#000" stroke-width="1.0"/>
<line x1="289.90" y1="165.36" x2="292.00" y2="165.36" stroke="#000" stroke-width="1.0"/>
<line x1="289.90" y1="155.21" x2="292.00" y2="155.21" stroke="#000" stroke-width="1.0"/>
<line x1="289.90" y1="145.07" x2="292.00" y2="145.07" stroke="#000" stroke-width="1.0"/>
<line x1="295.00" y1="203.50" x2="295.00" y2="204.25" stroke="#333" stroke-width="0.7"/>
<line x1="293.75" y1="203.50" x2="296.25" y2="203.50" stroke="#333" stroke-width="0.7"/>
<rect x="292.50" y="204.25" width="5.00" height="6.75" fill="#fff" stroke="#222" stroke-width="0.7"/>
<line x1="301.25" y1="203.00" x2="301.25" y2="203.75" stroke="#333" stroke-width="0.7"/>
<line x1="300.00" y1="203.00" x2="302.50" y2="203.00" stroke="#333" stroke-width="0.7"/>
<rect x="298.75" y="203.75" width="5.00" height="7.25" fill="#808080" stroke="#222" stroke-width="0.7"/>
<line x1="307.50" y1="203.80" x2="307.50" y2="204.50" stroke="#333" stroke-width="0.7"/>
<line x1="306.25" y1="203.80" x2="308.75" y2="203.80" stroke="#333" stroke-width="0.7"/>
<rect x="305.00" y="204.50" width="5.00" height="6.50" fill="#000" stroke="#222" stroke-width="0.7"/>
<line x1="318.12" y1="156.25" x2="318.12" y2="160.25" stroke="#333" stroke-width="0.7"/>
<line x1="316.88" y1="156.25" x2="319.38" y2="156.25" stroke="#333" stroke-width="0.7"/>
<rect x="315.50" y="160.25" width="5.25" height="50.75" fill="#fff" stroke="#222" stroke-width="0.7"/>
<line x1="324.38" y1="158.00" x2="324.38" y2="165.00" stroke="#333" stroke-width="0.7"/>
<line x1="323.12" y1="158.00" x2="325.62" y2="158.00" stroke="#333" stroke-width="0.7"/>
<rect x="321.75" y="165.00" width="5.25" height="46.00" fill="#808080" stroke="#222" stroke-width="0.7"/>
<line x1="330.62" y1="160.50" x2="330.62" y2="164.00" stroke="#333" stroke-width="0.7"/>
<line x1="329.38" y1="160.50" x2="331.88" y2="160.50" stroke="#333" stroke-width="0.7"/>
<rect x="328.00" y="164.00" width="5.25" height="47.00" fill="#000" stroke="#222" stroke-width="0.7"/>
<line x1="341.25" y1="150.75" x2="341.25" y2="154.50" stroke="#333" stroke-width="0.7"/>
<line x1="340.00" y1="150.75" x2="342.50" y2="150.75" stroke="#333" stroke-width="0.7"/>
<rect x="338.75" y="154.50" width="5.00" height="56.50" fill="#fff" stroke="#222" stroke-width="0.7"/>
<line x1="347.50" y1="157.00" x2="347.50" y2="164.00" stroke="#333" stroke-width="0.7"/>
<line x1="346.25" y1="157.00" x2="348.75" y2="157.00" stroke="#333" stroke-width="0.7"/>
<rect x="345.00" y="164.00" width="5.00" height="47.00" fill="#808080" stroke="#222" stroke-width="0.7"/>
<line x1="353.75" y1="166.25" x2="353.75" y2="169.50" stroke="#333" stroke-width="0.7"/>
<line x1="352.50" y1="166.25" x2="355.00" y2="166.25" stroke="#333" stroke-width="0.7"/>
<rect x="351.25" y="169.50" width="5.00" height="41.50" fill="#000" stroke="#222" stroke-width="0.7"/>
<line x1="364.25" y1="199.20" x2="364.25" y2="200.00" stroke="#333" stroke-width="0.7"/>
<line x1="363.00" y1="199.20" x2="365.50" y2="199.20" stroke="#333" stroke-width="0.7"/>
<rect x="361.75" y="200.00" width="5.00" height="11.00" fill="#fff" stroke="#222" stroke-width="0.7"/>
<line x1="370.50" y1="200.50" x2="370.50" y2="201.50" stroke="#333" stroke-width="0.7"/>
<line x1="369.25" y1="200.50" x2="371.75" y2="200.50" stroke="#333" stroke-width="0.7"/>
<rect x="368.00" y="201.50" width="5.00" height="9.50" fill="#808080" stroke="#222" stroke-width="0.7"/>
<line x1="376.75" y1="202.30" x2="376.75" y2="203.00" stroke="#333" stroke-width="0.7"/>
<line x1="375.50" y1="202.30" x2="378.00" y2="202.30" stroke="#333" stroke-width="0.7"/>
<rect x="374.25" y="203.00" width="5.00" height="8.00" fill="#000" stroke="#222" stroke-width="0.7"/>
<line x1="312.75" y1="211.00" x2="312.75" y2="208.50" stroke="#000" stroke-width="0.9"/>
<line x1="336.00" y1="211.00" x2="336.00" y2="208.50" stroke="#000" stroke-width="0.9"/>
<line x1="359.00" y1="211.00" x2="359.00" y2="208.50" stroke="#000" stroke-width="0.9"/>
<line x1="381.90" y1="211.00" x2="381.90" y2="208.50" stroke="#000" stroke-width="0.9"/>
<text x="301.25" y="217.60" font-size="6" font-weight="bold" text-anchor="middle" fill="#000" >0 hr</text>
<text x="324.25" y="217.60" font-size="6" font-weight="bold" text-anchor="middle" fill="#000" >6 hr</text>
<text x="348.70" y="217.60" font-size="6" font-weight="bold" text-anchor="middle" fill="#000" >24 hr</text>
<text x="370.75" y="217.60" font-size="6" font-weight="bold" text-anchor="middle" fill="#000" >1 week</text>
<text font-size="11.8" font-weight="bold" transform="translate(265.8 132.2) scale(1.08 1)">I</text>
<text font-size="4.8" font-weight="bold" text-anchor="middle" textLength="65" lengthAdjust="spacingAndGlyphs" style="stroke-width:0.18px" transform="translate(269 172.5) rotate(-90)">IL-1&#946; Concentration (pg/ml)</text>
<line x1="411.80" y1="140.15" x2="411.80" y2="210.60" stroke="#000" stroke-width="1.25"/>
<line x1="411.20" y1="210.00" x2="500.00" y2="210.00" stroke="#000" stroke-width="1.25"/>
<line x1="411.80" y1="210.00" x2="415.10" y2="210.00" stroke="#000" stroke-width="1.15"/>
<text x="407.40" y="212.56" font-size="6" font-weight="bold" text-anchor="end" fill="#000" >0</text>
<line x1="411.80" y1="203.07" x2="415.10" y2="203.07" stroke="#000" stroke-width="1.15"/>
<text x="407.40" y="205.63" font-size="6" font-weight="bold" text-anchor="end" fill="#000" >20</text>
<line x1="411.80" y1="196.15" x2="415.10" y2="196.15" stroke="#000" stroke-width="1.15"/>
<text x="407.40" y="198.71" font-size="6" font-weight="bold" text-anchor="end" fill="#000" >40</text>
<line x1="411.80" y1="189.22" x2="415.10" y2="189.22" stroke="#000" stroke-width="1.15"/>
<text x="407.40" y="191.78" font-size="6" font-weight="bold" text-anchor="end" fill="#000" >60</text>
<line x1="411.80" y1="182.30" x2="415.10" y2="182.30" stroke="#000" stroke-width="1.15"/>
<text x="407.40" y="184.86" font-size="6" font-weight="bold" text-anchor="end" fill="#000" >80</text>
<line x1="411.80" y1="175.38" x2="415.10" y2="175.38" stroke="#000" stroke-width="1.15"/>
<text x="407.40" y="177.94" font-size="6" font-weight="bold" text-anchor="end" fill="#000" >100</text>
<line x1="411.80" y1="168.45" x2="415.10" y2="168.45" stroke="#000" stroke-width="1.15"/>
<text x="407.40" y="171.01" font-size="6" font-weight="bold" text-anchor="end" fill="#000" >120</text>
<line x1="411.80" y1="161.53" x2="415.10" y2="161.53" stroke="#000" stroke-width="1.15"/>
<text x="407.40" y="164.09" font-size="6" font-weight="bold" text-anchor="end" fill="#000" >140</text>
<line x1="411.80" y1="154.60" x2="415.10" y2="154.60" stroke="#000" stroke-width="1.15"/>
<text x="407.40" y="157.16" font-size="6" font-weight="bold" text-anchor="end" fill="#000" >160</text>
<line x1="411.80" y1="147.68" x2="415.10" y2="147.68" stroke="#000" stroke-width="1.15"/>
<text x="407.40" y="150.24" font-size="6" font-weight="bold" text-anchor="end" fill="#000" >180</text>
<line x1="411.80" y1="140.75" x2="415.10" y2="140.75" stroke="#000" stroke-width="1.15"/>
<text x="407.40" y="143.31" font-size="6" font-weight="bold" text-anchor="end" fill="#000" >200</text>
<line x1="411.80" y1="206.54" x2="413.90" y2="206.54" stroke="#000" stroke-width="1.0"/>
<line x1="411.80" y1="199.61" x2="413.90" y2="199.61" stroke="#000" stroke-width="1.0"/>
<line x1="411.80" y1="192.69" x2="413.90" y2="192.69" stroke="#000" stroke-width="1.0"/>
<line x1="411.80" y1="185.76" x2="413.90" y2="185.76" stroke="#000" stroke-width="1.0"/>
<line x1="411.80" y1="178.84" x2="413.90" y2="178.84" stroke="#000" stroke-width="1.0"/>
<line x1="411.80" y1="171.91" x2="413.90" y2="171.91" stroke="#000" stroke-width="1.0"/>
<line x1="411.80" y1="164.99" x2="413.90" y2="164.99" stroke="#000" stroke-width="1.0"/>
<line x1="411.80" y1="158.06" x2="413.90" y2="158.06" stroke="#000" stroke-width="1.0"/>
<line x1="411.80" y1="151.14" x2="413.90" y2="151.14" stroke="#000" stroke-width="1.0"/>
<line x1="411.80" y1="144.21" x2="413.90" y2="144.21" stroke="#000" stroke-width="1.0"/>
<line x1="416.88" y1="201.80" x2="416.88" y2="202.50" stroke="#333" stroke-width="0.7"/>
<line x1="415.62" y1="201.80" x2="418.12" y2="201.80" stroke="#333" stroke-width="0.7"/>
<rect x="414.50" y="202.50" width="4.75" height="7.50" fill="#fff" stroke="#222" stroke-width="0.7"/>
<line x1="422.88" y1="200.80" x2="422.88" y2="201.50" stroke="#333" stroke-width="0.7"/>
<line x1="421.62" y1="200.80" x2="424.12" y2="200.80" stroke="#333" stroke-width="0.7"/>
<rect x="420.50" y="201.50" width="4.75" height="8.50" fill="#808080" stroke="#222" stroke-width="0.7"/>
<line x1="428.88" y1="199.30" x2="428.88" y2="200.00" stroke="#333" stroke-width="0.7"/>
<line x1="427.62" y1="199.30" x2="430.12" y2="199.30" stroke="#333" stroke-width="0.7"/>
<rect x="426.50" y="200.00" width="4.75" height="10.00" fill="#000" stroke="#222" stroke-width="0.7"/>
<line x1="438.75" y1="146.75" x2="438.75" y2="150.75" stroke="#333" stroke-width="0.7"/>
<line x1="437.50" y1="146.75" x2="440.00" y2="146.75" stroke="#333" stroke-width="0.7"/>
<rect x="436.25" y="150.75" width="5.00" height="59.25" fill="#fff" stroke="#222" stroke-width="0.7"/>
<line x1="444.75" y1="147.50" x2="444.75" y2="153.00" stroke="#333" stroke-width="0.7"/>
<line x1="443.50" y1="147.50" x2="446.00" y2="147.50" stroke="#333" stroke-width="0.7"/>
<rect x="442.25" y="153.00" width="5.00" height="57.00" fill="#808080" stroke="#222" stroke-width="0.7"/>
<line x1="450.75" y1="177.00" x2="450.75" y2="178.75" stroke="#333" stroke-width="0.7"/>
<line x1="449.50" y1="177.00" x2="452.00" y2="177.00" stroke="#333" stroke-width="0.7"/>
<rect x="448.25" y="178.75" width="5.00" height="31.25" fill="#000" stroke="#222" stroke-width="0.7"/>
<line x1="460.75" y1="142.00" x2="460.75" y2="146.25" stroke="#333" stroke-width="0.7"/>
<line x1="459.50" y1="142.00" x2="462.00" y2="142.00" stroke="#333" stroke-width="0.7"/>
<rect x="458.25" y="146.25" width="5.00" height="63.75" fill="#fff" stroke="#222" stroke-width="0.7"/>
<line x1="466.75" y1="146.25" x2="466.75" y2="151.25" stroke="#333" stroke-width="0.7"/>
<line x1="465.50" y1="146.25" x2="468.00" y2="146.25" stroke="#333" stroke-width="0.7"/>
<rect x="464.25" y="151.25" width="5.00" height="58.75" fill="#808080" stroke="#222" stroke-width="0.7"/>
<line x1="472.75" y1="180.00" x2="472.75" y2="182.00" stroke="#333" stroke-width="0.7"/>
<line x1="471.50" y1="180.00" x2="474.00" y2="180.00" stroke="#333" stroke-width="0.7"/>
<rect x="470.25" y="182.00" width="5.00" height="28.00" fill="#000" stroke="#222" stroke-width="0.7"/>
<line x1="482.75" y1="182.00" x2="482.75" y2="184.25" stroke="#333" stroke-width="0.7"/>
<line x1="481.50" y1="182.00" x2="484.00" y2="182.00" stroke="#333" stroke-width="0.7"/>
<rect x="480.25" y="184.25" width="5.00" height="25.75" fill="#fff" stroke="#222" stroke-width="0.7"/>
<line x1="488.75" y1="187.00" x2="488.75" y2="189.50" stroke="#333" stroke-width="0.7"/>
<line x1="487.50" y1="187.00" x2="490.00" y2="187.00" stroke="#333" stroke-width="0.7"/>
<rect x="486.25" y="189.50" width="5.00" height="20.50" fill="#808080" stroke="#222" stroke-width="0.7"/>
<line x1="494.75" y1="197.50" x2="494.75" y2="198.75" stroke="#333" stroke-width="0.7"/>
<line x1="493.50" y1="197.50" x2="496.00" y2="197.50" stroke="#333" stroke-width="0.7"/>
<rect x="492.25" y="198.75" width="5.00" height="11.25" fill="#000" stroke="#222" stroke-width="0.7"/>
<line x1="433.75" y1="210.00" x2="433.75" y2="207.50" stroke="#000" stroke-width="0.9"/>
<line x1="455.75" y1="210.00" x2="455.75" y2="207.50" stroke="#000" stroke-width="0.9"/>
<line x1="477.75" y1="210.00" x2="477.75" y2="207.50" stroke="#000" stroke-width="0.9"/>
<line x1="499.50" y1="210.00" x2="499.50" y2="207.50" stroke="#000" stroke-width="0.9"/>
<text x="422.60" y="216.40" font-size="6" font-weight="bold" text-anchor="middle" fill="#000" >0 hr</text>
<text x="445.00" y="216.40" font-size="6" font-weight="bold" text-anchor="middle" fill="#000" >6 hr</text>
<text x="466.60" y="216.40" font-size="6" font-weight="bold" text-anchor="middle" fill="#000" >24 hr</text>
<text x="490.00" y="217.10" font-size="6" font-weight="bold" text-anchor="middle" fill="#000" >1 week</text>
<text font-size="12.8" font-weight="bold" transform="translate(387.3 134.9) scale(1.08 1)">J</text>
<text font-size="4.8" font-weight="bold" text-anchor="middle" textLength="55" lengthAdjust="spacingAndGlyphs" style="stroke-width:0.18px" transform="translate(392.6 178.75) rotate(-90)">IL-6 Concentration (pg/ml)</text>
<text x="450.75" y="178.20" font-size="8" font-weight="bold" text-anchor="middle" style="stroke-width:0.4px">*</text>
<text x="472.75" y="181.40" font-size="8" font-weight="bold" text-anchor="middle" style="stroke-width:0.4px">*</text>
<text x="494.90" y="199.90" font-size="8" font-weight="bold" text-anchor="middle" style="stroke-width:0.4px">*</text>
<line x1="290.10" y1="229.90" x2="290.10" y2="300.40" stroke="#000" stroke-width="1.25"/>
<line x1="289.50" y1="299.80" x2="385.00" y2="299.80" stroke="#000" stroke-width="1.25"/>
<line x1="290.10" y1="299.80" x2="293.40" y2="299.80" stroke="#000" stroke-width="1.15"/>
<text x="285.10" y="302.58" font-size="6.6" font-weight="bold" text-anchor="end" fill="#000" >0</text>
<line x1="290.10" y1="288.25" x2="293.40" y2="288.25" stroke="#000" stroke-width="1.15"/>
<text x="285.10" y="291.03" font-size="6.6" font-weight="bold" text-anchor="end" fill="#000" >50</text>
<line x1="290.10" y1="276.70" x2="293.40" y2="276.70" stroke="#000" stroke-width="1.15"/>
<text x="285.10" y="279.48" font-size="6.6" font-weight="bold" text-anchor="end" fill="#000" >100</text>
<line x1="290.10" y1="265.15" x2="293.40" y2="265.15" stroke="#000" stroke-width="1.15"/>
<text x="285.10" y="267.93" font-size="6.6" font-weight="bold" text-anchor="end" fill="#000" >150</text>
<line x1="290.10" y1="253.60" x2="293.40" y2="253.60" stroke="#000" stroke-width="1.15"/>
<text x="285.10" y="256.38" font-size="6.6" font-weight="bold" text-anchor="end" fill="#000" >200</text>
<line x1="290.10" y1="242.05" x2="293.40" y2="242.05" stroke="#000" stroke-width="1.15"/>
<text x="285.10" y="244.83" font-size="6.6" font-weight="bold" text-anchor="end" fill="#000" >250</text>
<line x1="290.10" y1="230.50" x2="293.40" y2="230.50" stroke="#000" stroke-width="1.15"/>
<text x="285.10" y="233.28" font-size="6.6" font-weight="bold" text-anchor="end" fill="#000" >300</text>
<line x1="295.50" y1="284.70" x2="295.50" y2="285.50" stroke="#333" stroke-width="0.7"/>
<line x1="294.25" y1="284.70" x2="296.75" y2="284.70" stroke="#333" stroke-width="0.7"/>
<rect x="293.00" y="285.50" width="5.00" height="14.30" fill="#fff" stroke="#222" stroke-width="0.7"/>
<line x1="301.75" y1="283.00" x2="301.75" y2="283.75" stroke="#333" stroke-width="0.7"/>
<line x1="300.50" y1="283.00" x2="303.00" y2="283.00" stroke="#333" stroke-width="0.7"/>
<rect x="299.25" y="283.75" width="5.00" height="16.05" fill="#808080" stroke="#222" stroke-width="0.7"/>
<line x1="308.00" y1="283.20" x2="308.00" y2="284.50" stroke="#333" stroke-width="0.7"/>
<line x1="306.75" y1="283.20" x2="309.25" y2="283.20" stroke="#333" stroke-width="0.7"/>
<rect x="305.50" y="284.50" width="5.00" height="15.30" fill="#000" stroke="#222" stroke-width="0.7"/>
<line x1="318.88" y1="243.75" x2="318.88" y2="248.25" stroke="#333" stroke-width="0.7"/>
<line x1="317.62" y1="243.75" x2="320.12" y2="243.75" stroke="#333" stroke-width="0.7"/>
<rect x="316.25" y="248.25" width="5.25" height="51.55" fill="#fff" stroke="#222" stroke-width="0.7"/>
<line x1="325.25" y1="253.25" x2="325.25" y2="255.50" stroke="#333" stroke-width="0.7"/>
<line x1="324.00" y1="253.25" x2="326.50" y2="253.25" stroke="#333" stroke-width="0.7"/>
<rect x="322.50" y="255.50" width="5.50" height="44.30" fill="#808080" stroke="#222" stroke-width="0.7"/>
<line x1="331.75" y1="273.75" x2="331.75" y2="275.75" stroke="#333" stroke-width="0.7"/>
<line x1="330.50" y1="273.75" x2="333.00" y2="273.75" stroke="#333" stroke-width="0.7"/>
<rect x="329.00" y="275.75" width="5.50" height="24.05" fill="#000" stroke="#222" stroke-width="0.7"/>
<line x1="342.62" y1="238.75" x2="342.62" y2="244.25" stroke="#333" stroke-width="0.7"/>
<line x1="341.38" y1="238.75" x2="343.88" y2="238.75" stroke="#333" stroke-width="0.7"/>
<rect x="340.00" y="244.25" width="5.25" height="55.55" fill="#fff" stroke="#222" stroke-width="0.7"/>
<line x1="349.00" y1="249.25" x2="349.00" y2="251.25" stroke="#333" stroke-width="0.7"/>
<line x1="347.75" y1="249.25" x2="350.25" y2="249.25" stroke="#333" stroke-width="0.7"/>
<rect x="346.25" y="251.25" width="5.50" height="48.55" fill="#808080" stroke="#222" stroke-width="0.7"/>
<line x1="355.50" y1="274.25" x2="355.50" y2="276.25" stroke="#333" stroke-width="0.7"/>
<line x1="354.25" y1="274.25" x2="356.75" y2="274.25" stroke="#333" stroke-width="0.7"/>
<rect x="352.75" y="276.25" width="5.50" height="23.55" fill="#000" stroke="#222" stroke-width="0.7"/>
<line x1="366.38" y1="280.50" x2="366.38" y2="282.50" stroke="#333" stroke-width="0.7"/>
<line x1="365.12" y1="280.50" x2="367.62" y2="280.50" stroke="#333" stroke-width="0.7"/>
<rect x="363.75" y="282.50" width="5.25" height="17.30" fill="#fff" stroke="#222" stroke-width="0.7"/>
<line x1="372.75" y1="285.50" x2="372.75" y2="286.25" stroke="#333" stroke-width="0.7"/>
<line x1="371.50" y1="285.50" x2="374.00" y2="285.50" stroke="#333" stroke-width="0.7"/>
<rect x="370.00" y="286.25" width="5.50" height="13.55" fill="#808080" stroke="#222" stroke-width="0.7"/>
<line x1="379.25" y1="291.80" x2="379.25" y2="292.50" stroke="#333" stroke-width="0.7"/>
<line x1="378.00" y1="291.80" x2="380.50" y2="291.80" stroke="#333" stroke-width="0.7"/>
<rect x="376.50" y="292.50" width="5.50" height="7.30" fill="#000" stroke="#222" stroke-width="0.7"/>
<line x1="313.38" y1="299.80" x2="313.38" y2="297.30" stroke="#000" stroke-width="0.9"/>
<line x1="337.25" y1="299.80" x2="337.25" y2="297.30" stroke="#000" stroke-width="0.9"/>
<line x1="361.00" y1="299.80" x2="361.00" y2="297.30" stroke="#000" stroke-width="0.9"/>
<line x1="384.50" y1="299.80" x2="384.50" y2="297.30" stroke="#000" stroke-width="0.9"/>
<text x="302.00" y="305.40" font-size="6" font-weight="bold" text-anchor="middle" fill="#000" >0 hr</text>
<text x="324.30" y="306.60" font-size="6" font-weight="bold" text-anchor="middle" fill="#000" >6 hr</text>
<text x="350.00" y="306.60" font-size="6" font-weight="bold" text-anchor="middle" fill="#000" >24 hr</text>
<text x="373.50" y="306.60" font-size="6" font-weight="bold" text-anchor="middle" fill="#000" >1 week</text>
<text font-size="11.8" font-weight="bold" transform="translate(261.8 223.4) scale(1.08 1)">K</text>
<text font-size="4.8" font-weight="bold" text-anchor="middle" textLength="67" lengthAdjust="spacingAndGlyphs" style="stroke-width:0.18px" transform="translate(269.8 263) rotate(-90)">TNF-&#945; Concentration (pg/ml)</text>
<text x="331.75" y="273.90" font-size="8" font-weight="bold" text-anchor="middle" style="stroke-width:0.4px">*</text>
<text x="355.50" y="274.65" font-size="8" font-weight="bold" text-anchor="middle" style="stroke-width:0.4px">*</text>
<line x1="410.80" y1="226.90" x2="410.80" y2="301.10" stroke="#000" stroke-width="1.25"/>
<line x1="410.20" y1="300.50" x2="507.00" y2="300.50" stroke="#000" stroke-width="1.25"/>
<line x1="410.80" y1="300.50" x2="414.10" y2="300.50" stroke="#000" stroke-width="1.15"/>
<text x="405.50" y="303.31" font-size="6.7" font-weight="bold" text-anchor="end" fill="#000" >0</text>
<line x1="410.80" y1="282.25" x2="414.10" y2="282.25" stroke="#000" stroke-width="1.15"/>
<text x="405.50" y="285.06" font-size="6.7" font-weight="bold" text-anchor="end" fill="#000" >200</text>
<line x1="410.80" y1="264.00" x2="414.10" y2="264.00" stroke="#000" stroke-width="1.15"/>
<text x="405.50" y="266.81" font-size="6.7" font-weight="bold" text-anchor="end" fill="#000" >400</text>
<line x1="410.80" y1="245.75" x2="414.10" y2="245.75" stroke="#000" stroke-width="1.15"/>
<text x="405.50" y="248.56" font-size="6.7" font-weight="bold" text-anchor="end" fill="#000" >600</text>
<line x1="410.80" y1="227.50" x2="414.10" y2="227.50" stroke="#000" stroke-width="1.15"/>
<text x="405.50" y="230.31" font-size="6.7" font-weight="bold" text-anchor="end" fill="#000" >800</text>
<line x1="410.80" y1="291.38" x2="412.90" y2="291.38" stroke="#000" stroke-width="1.0"/>
<line x1="410.80" y1="273.12" x2="412.90" y2="273.12" stroke="#000" stroke-width="1.0"/>
<line x1="410.80" y1="254.88" x2="412.90" y2="254.88" stroke="#000" stroke-width="1.0"/>
<line x1="410.80" y1="236.62" x2="412.90" y2="236.62" stroke="#000" stroke-width="1.0"/>
<line x1="416.25" y1="288.50" x2="416.25" y2="289.25" stroke="#333" stroke-width="0.7"/>
<line x1="415.00" y1="288.50" x2="417.50" y2="288.50" stroke="#333" stroke-width="0.7"/>
<rect x="413.75" y="289.25" width="5.00" height="11.25" fill="#fff" stroke="#222" stroke-width="0.7"/>
<line x1="422.50" y1="287.00" x2="422.50" y2="288.00" stroke="#333" stroke-width="0.7"/>
<line x1="421.25" y1="287.00" x2="423.75" y2="287.00" stroke="#333" stroke-width="0.7"/>
<rect x="420.00" y="288.00" width="5.00" height="12.50" fill="#808080" stroke="#222" stroke-width="0.7"/>
<line x1="429.00" y1="285.00" x2="429.00" y2="287.50" stroke="#333" stroke-width="0.7"/>
<line x1="427.75" y1="285.00" x2="430.25" y2="285.00" stroke="#333" stroke-width="0.7"/>
<rect x="426.25" y="287.50" width="5.50" height="13.00" fill="#000" stroke="#222" stroke-width="0.7"/>
<line x1="440.12" y1="245.00" x2="440.12" y2="249.25" stroke="#333" stroke-width="0.7"/>
<line x1="438.88" y1="245.00" x2="441.38" y2="245.00" stroke="#333" stroke-width="0.7"/>
<rect x="437.50" y="249.25" width="5.25" height="51.25" fill="#fff" stroke="#222" stroke-width="0.7"/>
<line x1="446.75" y1="251.25" x2="446.75" y2="255.00" stroke="#333" stroke-width="0.7"/>
<line x1="445.50" y1="251.25" x2="448.00" y2="251.25" stroke="#333" stroke-width="0.7"/>
<rect x="444.00" y="255.00" width="5.50" height="45.50" fill="#808080" stroke="#222" stroke-width="0.7"/>
<line x1="453.25" y1="249.50" x2="453.25" y2="256.25" stroke="#333" stroke-width="0.7"/>
<line x1="452.00" y1="249.50" x2="454.50" y2="249.50" stroke="#333" stroke-width="0.7"/>
<rect x="450.50" y="256.25" width="5.50" height="44.25" fill="#000" stroke="#222" stroke-width="0.7"/>
<line x1="464.38" y1="258.00" x2="464.38" y2="260.75" stroke="#333" stroke-width="0.7"/>
<line x1="463.12" y1="258.00" x2="465.62" y2="258.00" stroke="#333" stroke-width="0.7"/>
<rect x="461.75" y="260.75" width="5.25" height="39.75" fill="#fff" stroke="#222" stroke-width="0.7"/>
<line x1="470.88" y1="259.25" x2="470.88" y2="262.50" stroke="#333" stroke-width="0.7"/>
<line x1="469.62" y1="259.25" x2="472.12" y2="259.25" stroke="#333" stroke-width="0.7"/>
<rect x="468.25" y="262.50" width="5.25" height="38.00" fill="#808080" stroke="#222" stroke-width="0.7"/>
<line x1="477.50" y1="272.00" x2="477.50" y2="276.25" stroke="#333" stroke-width="0.7"/>
<line x1="476.25" y1="272.00" x2="478.75" y2="272.00" stroke="#333" stroke-width="0.7"/>
<rect x="474.75" y="276.25" width="5.50" height="24.25" fill="#000" stroke="#222" stroke-width="0.7"/>
<line x1="488.75" y1="279.50" x2="488.75" y2="281.25" stroke="#333" stroke-width="0.7"/>
<line x1="487.50" y1="279.50" x2="490.00" y2="279.50" stroke="#333" stroke-width="0.7"/>
<rect x="486.25" y="281.25" width="5.00" height="19.25" fill="#fff" stroke="#222" stroke-width="0.7"/>
<line x1="495.25" y1="282.50" x2="495.25" y2="284.25" stroke="#333" stroke-width="0.7"/>
<line x1="494.00" y1="282.50" x2="496.50" y2="282.50" stroke="#333" stroke-width="0.7"/>
<rect x="492.50" y="284.25" width="5.50" height="16.25" fill="#808080" stroke="#222" stroke-width="0.7"/>
<line x1="502.00" y1="282.50" x2="502.00" y2="285.00" stroke="#333" stroke-width="0.7"/>
<line x1="500.75" y1="282.50" x2="503.25" y2="282.50" stroke="#333" stroke-width="0.7"/>
<rect x="499.25" y="285.00" width="5.50" height="15.50" fill="#000" stroke="#222" stroke-width="0.7"/>
<line x1="434.62" y1="300.50" x2="434.62" y2="298.00" stroke="#000" stroke-width="0.9"/>
<line x1="458.88" y1="300.50" x2="458.88" y2="298.00" stroke="#000" stroke-width="0.9"/>
<line x1="483.25" y1="300.50" x2="483.25" y2="298.00" stroke="#000" stroke-width="0.9"/>
<line x1="506.50" y1="300.50" x2="506.50" y2="298.00" stroke="#000" stroke-width="0.9"/>
<text x="421.80" y="305.60" font-size="6" font-weight="bold" text-anchor="middle" fill="#000" >0 hr</text>
<text x="445.10" y="307.40" font-size="6" font-weight="bold" text-anchor="middle" fill="#000" >6 hr</text>
<text x="471.00" y="307.80" font-size="6" font-weight="bold" text-anchor="middle" fill="#000" >24 hr</text>
<text x="496.20" y="308.00" font-size="6" font-weight="bold" text-anchor="middle" fill="#000" >1 week</text>
<text font-size="12.2" font-weight="bold" transform="translate(383.8 221.6) scale(1.08 1)">L</text>
<text font-size="4.8" font-weight="bold" text-anchor="middle" textLength="72" lengthAdjust="spacingAndGlyphs" style="stroke-width:0.18px" transform="translate(392.8 260) rotate(-90)">TGF-&#946;1 Concentration (pg/ml)</text>
<text x="478.25" y="273.40" font-size="8" font-weight="bold" text-anchor="middle" style="stroke-width:0.4px">*</text>
<line x1="290.20" y1="315.70" x2="290.20" y2="389.60" stroke="#000" stroke-width="1.25"/>
<line x1="289.60" y1="389.00" x2="385.00" y2="389.00" stroke="#000" stroke-width="1.25"/>
<line x1="290.20" y1="389.00" x2="293.50" y2="389.00" stroke="#000" stroke-width="1.15"/>
<text x="285.30" y="391.78" font-size="6.6" font-weight="bold" text-anchor="end" fill="#000" >0</text>
<line x1="290.20" y1="364.77" x2="293.50" y2="364.77" stroke="#000" stroke-width="1.15"/>
<text x="285.30" y="367.54" font-size="6.6" font-weight="bold" text-anchor="end" fill="#000" >200</text>
<line x1="290.20" y1="340.53" x2="293.50" y2="340.53" stroke="#000" stroke-width="1.15"/>
<text x="285.30" y="343.31" font-size="6.6" font-weight="bold" text-anchor="end" fill="#000" >400</text>
<line x1="290.20" y1="316.30" x2="293.50" y2="316.30" stroke="#000" stroke-width="1.15"/>
<text x="285.30" y="319.08" font-size="6.6" font-weight="bold" text-anchor="end" fill="#000" >600</text>
<line x1="290.20" y1="376.88" x2="292.30" y2="376.88" stroke="#000" stroke-width="1.0"/>
<line x1="290.20" y1="352.65" x2="292.30" y2="352.65" stroke="#000" stroke-width="1.0"/>
<line x1="290.20" y1="328.42" x2="292.30" y2="328.42" stroke="#000" stroke-width="1.0"/>
<line x1="295.30" y1="366.00" x2="295.30" y2="369.25" stroke="#333" stroke-width="0.7"/>
<line x1="294.05" y1="366.00" x2="296.55" y2="366.00" stroke="#333" stroke-width="0.7"/>
<rect x="292.60" y="369.25" width="5.40" height="19.75" fill="#fff" stroke="#222" stroke-width="0.7"/>
<line x1="301.75" y1="367.40" x2="301.75" y2="368.20" stroke="#333" stroke-width="0.7"/>
<line x1="300.50" y1="367.40" x2="303.00" y2="367.40" stroke="#333" stroke-width="0.7"/>
<rect x="299.30" y="368.20" width="4.90" height="20.80" fill="#808080" stroke="#222" stroke-width="0.7"/>
<line x1="308.18" y1="364.60" x2="308.18" y2="367.00" stroke="#333" stroke-width="0.7"/>
<line x1="306.93" y1="364.60" x2="309.43" y2="364.60" stroke="#333" stroke-width="0.7"/>
<rect x="305.60" y="367.00" width="5.15" height="22.00" fill="#000" stroke="#222" stroke-width="0.7"/>
<line x1="318.90" y1="323.10" x2="318.90" y2="330.70" stroke="#333" stroke-width="0.7"/>
<line x1="317.65" y1="323.10" x2="320.15" y2="323.10" stroke="#333" stroke-width="0.7"/>
<rect x="316.20" y="330.70" width="5.40" height="58.30" fill="#fff" stroke="#222" stroke-width="0.7"/>
<line x1="325.40" y1="325.80" x2="325.40" y2="329.30" stroke="#333" stroke-width="0.7"/>
<line x1="324.15" y1="325.80" x2="326.65" y2="325.80" stroke="#333" stroke-width="0.7"/>
<rect x="322.70" y="329.30" width="5.40" height="59.70" fill="#808080" stroke="#222" stroke-width="0.7"/>
<line x1="331.90" y1="347.80" x2="331.90" y2="350.25" stroke="#333" stroke-width="0.7"/>
<line x1="330.65" y1="347.80" x2="333.15" y2="347.80" stroke="#333" stroke-width="0.7"/>
<rect x="329.20" y="350.25" width="5.40" height="38.75" fill="#000" stroke="#222" stroke-width="0.7"/>
<line x1="342.50" y1="330.20" x2="342.50" y2="336.70" stroke="#333" stroke-width="0.7"/>
<line x1="341.25" y1="330.20" x2="343.75" y2="330.20" stroke="#333" stroke-width="0.7"/>
<rect x="339.80" y="336.70" width="5.40" height="52.30" fill="#fff" stroke="#222" stroke-width="0.7"/>
<line x1="349.00" y1="336.70" x2="349.00" y2="339.40" stroke="#333" stroke-width="0.7"/>
<line x1="347.75" y1="336.70" x2="350.25" y2="336.70" stroke="#333" stroke-width="0.7"/>
<rect x="346.30" y="339.40" width="5.40" height="49.60" fill="#808080" stroke="#222" stroke-width="0.7"/>
<line x1="355.50" y1="354.60" x2="355.50" y2="357.30" stroke="#333" stroke-width="0.7"/>
<line x1="354.25" y1="354.60" x2="356.75" y2="354.60" stroke="#333" stroke-width="0.7"/>
<rect x="352.80" y="357.30" width="5.40" height="31.70" fill="#000" stroke="#222" stroke-width="0.7"/>
<line x1="366.10" y1="347.00" x2="366.10" y2="351.60" stroke="#333" stroke-width="0.7"/>
<line x1="364.85" y1="347.00" x2="367.35" y2="347.00" stroke="#333" stroke-width="0.7"/>
<rect x="363.40" y="351.60" width="5.40" height="37.40" fill="#fff" stroke="#222" stroke-width="0.7"/>
<line x1="372.60" y1="353.00" x2="372.60" y2="355.10" stroke="#333" stroke-width="0.7"/>
<line x1="371.35" y1="353.00" x2="373.85" y2="353.00" stroke="#333" stroke-width="0.7"/>
<rect x="369.90" y="355.10" width="5.40" height="33.90" fill="#808080" stroke="#222" stroke-width="0.7"/>
<line x1="379.25" y1="366.80" x2="379.25" y2="368.70" stroke="#333" stroke-width="0.7"/>
<line x1="378.00" y1="366.80" x2="380.50" y2="366.80" stroke="#333" stroke-width="0.7"/>
<rect x="376.40" y="368.70" width="5.70" height="20.30" fill="#000" stroke="#222" stroke-width="0.7"/>
<line x1="313.48" y1="389.00" x2="313.48" y2="386.50" stroke="#000" stroke-width="0.9"/>
<line x1="337.20" y1="389.00" x2="337.20" y2="386.50" stroke="#000" stroke-width="0.9"/>
<line x1="360.80" y1="389.00" x2="360.80" y2="386.50" stroke="#000" stroke-width="0.9"/>
<line x1="384.50" y1="389.00" x2="384.50" y2="386.50" stroke="#000" stroke-width="0.9"/>
<text x="301.00" y="394.00" font-size="6" font-weight="bold" text-anchor="middle" fill="#000" >0 hr</text>
<text x="324.30" y="395.70" font-size="6" font-weight="bold" text-anchor="middle" fill="#000" >6 hr</text>
<text x="350.30" y="396.00" font-size="6" font-weight="bold" text-anchor="middle" fill="#000" >24 hr</text>
<text x="373.20" y="395.70" font-size="6" font-weight="bold" text-anchor="middle" fill="#000" >1 week</text>
<text font-size="12.6" font-weight="bold" transform="translate(262.2 312.3) scale(1.08 1)">M</text>
<text font-size="4.8" font-weight="bold" text-anchor="middle" textLength="68" lengthAdjust="spacingAndGlyphs" style="stroke-width:0.18px" transform="translate(269.8 351) rotate(-90)">IFN-&#947; Concentration (pg/ml)</text>
<text x="331.60" y="348.20" font-size="8" font-weight="bold" text-anchor="middle" style="stroke-width:0.4px">*</text>
<text x="355.50" y="354.90" font-size="8" font-weight="bold" text-anchor="middle" style="stroke-width:0.4px">*</text>
<text x="379.40" y="366.60" font-size="8" font-weight="bold" text-anchor="middle" style="stroke-width:0.4px">*</text>
<line x1="410.50" y1="322.00" x2="410.50" y2="391.30" stroke="#000" stroke-width="1.25"/>
<line x1="409.90" y1="390.70" x2="500.00" y2="390.70" stroke="#000" stroke-width="1.25"/>
<line x1="410.50" y1="390.70" x2="413.80" y2="390.70" stroke="#000" stroke-width="1.15"/>
<text x="405.70" y="393.37" font-size="6.3" font-weight="bold" text-anchor="end" fill="#000" >0</text>
<line x1="410.50" y1="382.19" x2="413.80" y2="382.19" stroke="#000" stroke-width="1.15"/>
<text x="405.70" y="384.86" font-size="6.3" font-weight="bold" text-anchor="end" fill="#000" >2</text>
<line x1="410.50" y1="373.68" x2="413.80" y2="373.68" stroke="#000" stroke-width="1.15"/>
<text x="405.70" y="376.34" font-size="6.3" font-weight="bold" text-anchor="end" fill="#000" >4</text>
<line x1="410.50" y1="365.16" x2="413.80" y2="365.16" stroke="#000" stroke-width="1.15"/>
<text x="405.70" y="367.83" font-size="6.3" font-weight="bold" text-anchor="end" fill="#000" >6</text>
<line x1="410.50" y1="356.65" x2="413.80" y2="356.65" stroke="#000" stroke-width="1.15"/>
<text x="405.70" y="359.32" font-size="6.3" font-weight="bold" text-anchor="end" fill="#000" >8</text>
<line x1="410.50" y1="348.14" x2="413.80" y2="348.14" stroke="#000" stroke-width="1.15"/>
<text x="405.70" y="350.81" font-size="6.3" font-weight="bold" text-anchor="end" fill="#000" >10</text>
<line x1="410.50" y1="339.62" x2="413.80" y2="339.62" stroke="#000" stroke-width="1.15"/>
<text x="405.70" y="342.29" font-size="6.3" font-weight="bold" text-anchor="end" fill="#000" >12</text>
<line x1="410.50" y1="331.11" x2="413.80" y2="331.11" stroke="#000" stroke-width="1.15"/>
<text x="405.70" y="333.78" font-size="6.3" font-weight="bold" text-anchor="end" fill="#000" >14</text>
<line x1="410.50" y1="322.60" x2="413.80" y2="322.60" stroke="#000" stroke-width="1.15"/>
<text x="405.70" y="325.27" font-size="6.3" font-weight="bold" text-anchor="end" fill="#000" >16</text>
<line x1="410.50" y1="386.44" x2="412.60" y2="386.44" stroke="#000" stroke-width="1.0"/>
<line x1="410.50" y1="377.93" x2="412.60" y2="377.93" stroke="#000" stroke-width="1.0"/>
<line x1="410.50" y1="369.42" x2="412.60" y2="369.42" stroke="#000" stroke-width="1.0"/>
<line x1="410.50" y1="360.91" x2="412.60" y2="360.91" stroke="#000" stroke-width="1.0"/>
<line x1="410.50" y1="352.39" x2="412.60" y2="352.39" stroke="#000" stroke-width="1.0"/>
<line x1="410.50" y1="343.88" x2="412.60" y2="343.88" stroke="#000" stroke-width="1.0"/>
<line x1="410.50" y1="335.37" x2="412.60" y2="335.37" stroke="#000" stroke-width="1.0"/>
<line x1="410.50" y1="326.86" x2="412.60" y2="326.86" stroke="#000" stroke-width="1.0"/>
<line x1="415.55" y1="373.60" x2="415.55" y2="376.30" stroke="#333" stroke-width="0.7"/>
<line x1="414.30" y1="373.60" x2="416.80" y2="373.60" stroke="#333" stroke-width="0.7"/>
<rect x="413.10" y="376.30" width="4.90" height="14.40" fill="#fff" stroke="#222" stroke-width="0.7"/>
<line x1="421.65" y1="369.50" x2="421.65" y2="372.80" stroke="#333" stroke-width="0.7"/>
<line x1="420.40" y1="369.50" x2="422.90" y2="369.50" stroke="#333" stroke-width="0.7"/>
<rect x="419.30" y="372.80" width="4.70" height="17.90" fill="#808080" stroke="#222" stroke-width="0.7"/>
<line x1="427.75" y1="369.50" x2="427.75" y2="370.90" stroke="#333" stroke-width="0.7"/>
<line x1="426.50" y1="369.50" x2="429.00" y2="369.50" stroke="#333" stroke-width="0.7"/>
<rect x="425.30" y="370.90" width="4.90" height="19.80" fill="#000" stroke="#222" stroke-width="0.7"/>
<line x1="438.05" y1="365.40" x2="438.05" y2="369.20" stroke="#333" stroke-width="0.7"/>
<line x1="436.80" y1="365.40" x2="439.30" y2="365.40" stroke="#333" stroke-width="0.7"/>
<rect x="435.60" y="369.20" width="4.90" height="21.50" fill="#fff" stroke="#222" stroke-width="0.7"/>
<line x1="444.32" y1="357.30" x2="444.32" y2="362.50" stroke="#333" stroke-width="0.7"/>
<line x1="443.07" y1="357.30" x2="445.57" y2="357.30" stroke="#333" stroke-width="0.7"/>
<rect x="441.90" y="362.50" width="4.85" height="28.20" fill="#808080" stroke="#222" stroke-width="0.7"/>
<line x1="450.25" y1="322.60" x2="450.25" y2="326.10" stroke="#333" stroke-width="0.7"/>
<line x1="449.00" y1="322.60" x2="451.50" y2="322.60" stroke="#333" stroke-width="0.7"/>
<rect x="447.80" y="326.10" width="4.90" height="64.60" fill="#000" stroke="#222" stroke-width="0.7"/>
<line x1="460.35" y1="368.20" x2="460.35" y2="370.90" stroke="#333" stroke-width="0.7"/>
<line x1="459.10" y1="368.20" x2="461.60" y2="368.20" stroke="#333" stroke-width="0.7"/>
<rect x="457.90" y="370.90" width="4.90" height="19.80" fill="#fff" stroke="#222" stroke-width="0.7"/>
<line x1="466.55" y1="356.00" x2="466.55" y2="361.40" stroke="#333" stroke-width="0.7"/>
<line x1="465.30" y1="356.00" x2="467.80" y2="356.00" stroke="#333" stroke-width="0.7"/>
<rect x="464.10" y="361.40" width="4.90" height="29.30" fill="#808080" stroke="#222" stroke-width="0.7"/>
<line x1="472.68" y1="336.70" x2="472.68" y2="339.40" stroke="#333" stroke-width="0.7"/>
<line x1="471.43" y1="336.70" x2="473.93" y2="336.70" stroke="#333" stroke-width="0.7"/>
<rect x="470.10" y="339.40" width="5.15" height="51.30" fill="#000" stroke="#222" stroke-width="0.7"/>
<line x1="482.55" y1="370.90" x2="482.55" y2="373.60" stroke="#333" stroke-width="0.7"/>
<line x1="481.30" y1="370.90" x2="483.80" y2="370.90" stroke="#333" stroke-width="0.7"/>
<rect x="480.10" y="373.60" width="4.90" height="17.10" fill="#fff" stroke="#222" stroke-width="0.7"/>
<line x1="488.85" y1="364.60" x2="488.85" y2="368.70" stroke="#333" stroke-width="0.7"/>
<line x1="487.60" y1="364.60" x2="490.10" y2="364.60" stroke="#333" stroke-width="0.7"/>
<rect x="486.40" y="368.70" width="4.90" height="22.00" fill="#808080" stroke="#222" stroke-width="0.7"/>
<line x1="494.90" y1="363.30" x2="494.90" y2="365.40" stroke="#333" stroke-width="0.7"/>
<line x1="493.65" y1="363.30" x2="496.15" y2="363.30" stroke="#333" stroke-width="0.7"/>
<rect x="492.30" y="365.40" width="5.20" height="25.30" fill="#000" stroke="#222" stroke-width="0.7"/>
<line x1="432.90" y1="390.70" x2="432.90" y2="388.20" stroke="#000" stroke-width="0.9"/>
<line x1="455.30" y1="390.70" x2="455.30" y2="388.20" stroke="#000" stroke-width="0.9"/>
<line x1="477.68" y1="390.70" x2="477.68" y2="388.20" stroke="#000" stroke-width="0.9"/>
<line x1="499.50" y1="390.70" x2="499.50" y2="388.20" stroke="#000" stroke-width="0.9"/>
<text x="422.00" y="396.10" font-size="6" font-weight="bold" text-anchor="middle" fill="#000" >0 hr</text>
<text x="444.60" y="397.00" font-size="6" font-weight="bold" text-anchor="middle" fill="#000" >6 hr</text>
<text x="466.60" y="398.30" font-size="6" font-weight="bold" text-anchor="middle" fill="#000" >24 hr</text>
<text x="488.50" y="396.90" font-size="6" font-weight="bold" text-anchor="middle" fill="#000" >1 week</text>
<text font-size="11.5" font-weight="bold" transform="translate(389.3 316.6) scale(1.08 1)">N</text>
<text font-size="4.8" font-weight="bold" text-anchor="middle" textLength="64" lengthAdjust="spacingAndGlyphs" style="stroke-width:0.18px" transform="translate(396.6 355) rotate(-90)">tPA Concentration (ng/ml)</text>
<text x="449.70" y="324.60" font-size="8" font-weight="bold" text-anchor="middle" style="stroke-width:0.4px">*</text>
<text x="472.50" y="337.30" font-size="8" font-weight="bold" text-anchor="middle" style="stroke-width:0.4px">*</text>
</g></g>
</svg>
</body></html>
